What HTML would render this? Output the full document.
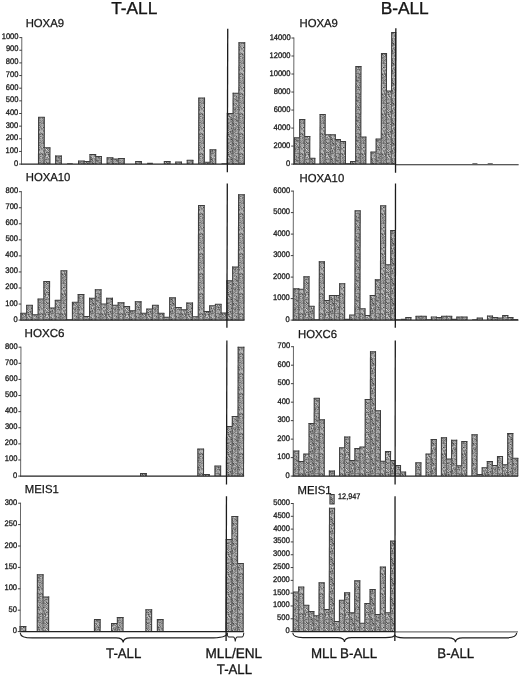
<!DOCTYPE html>
<html lang="en">
<head>
<meta charset="utf-8">
<title>HOX gene expression in T-ALL and B-ALL</title>
<style>
html,body{margin:0;padding:0;background:#fff;}
body{width:520px;height:676px;overflow:hidden;}
svg{display:block;}
text{font-family:"Liberation Sans", sans-serif;fill:#161616;}
.tk{font-weight:400;stroke:#161616;stroke-width:0.3;}
.tt{stroke:#161616;stroke-width:0.25;}
.tb{stroke:#161616;stroke-width:0.3;}
.th{stroke:#161616;stroke-width:0.35;}
</style>
</head>
<body>
<svg width="520" height="676" viewBox="0 0 520 676">
<defs>
<pattern id="st" width="20" height="20" patternUnits="userSpaceOnUse"><rect width="20" height="20" fill="#969696"/><rect x="0" y="0" width="1" height="1" fill="#838383"/><rect x="1" y="0" width="1" height="1" fill="#a7a7a7"/><rect x="2" y="0" width="1" height="1" fill="#838383"/><rect x="3" y="0" width="1" height="1" fill="#919191"/><rect x="4" y="0" width="1" height="1" fill="#707070"/><rect x="5" y="0" width="1" height="1" fill="#949494"/><rect x="6" y="0" width="1" height="1" fill="#a8a8a8"/><rect x="7" y="0" width="1" height="1" fill="#a5a5a5"/><rect x="8" y="0" width="1" height="1" fill="#a5a5a5"/><rect x="9" y="0" width="1" height="1" fill="#a0a0a0"/><rect x="10" y="0" width="1" height="1" fill="#949494"/><rect x="11" y="0" width="1" height="1" fill="#9f9f9f"/><rect x="12" y="0" width="1" height="1" fill="#5d5d5d"/><rect x="13" y="0" width="1" height="1" fill="#b1b1b1"/><rect x="14" y="0" width="1" height="1" fill="#979797"/><rect x="15" y="0" width="1" height="1" fill="#a7a7a7"/><rect x="16" y="0" width="1" height="1" fill="#5c5c5c"/><rect x="17" y="0" width="1" height="1" fill="#6a6a6a"/><rect x="18" y="0" width="1" height="1" fill="#717171"/><rect x="19" y="0" width="1" height="1" fill="#8d8d8d"/><rect x="0" y="1" width="1" height="1" fill="#a2a2a2"/><rect x="1" y="1" width="1" height="1" fill="#888888"/><rect x="2" y="1" width="1" height="1" fill="#a8a8a8"/><rect x="3" y="1" width="1" height="1" fill="#787878"/><rect x="4" y="1" width="1" height="1" fill="#a2a2a2"/><rect x="5" y="1" width="1" height="1" fill="#949494"/><rect x="6" y="1" width="1" height="1" fill="#888888"/><rect x="7" y="1" width="1" height="1" fill="#b8b8b8"/><rect x="8" y="1" width="1" height="1" fill="#a9a9a9"/><rect x="9" y="1" width="1" height="1" fill="#aaaaaa"/><rect x="10" y="1" width="1" height="1" fill="#898989"/><rect x="11" y="1" width="1" height="1" fill="#767676"/><rect x="12" y="1" width="1" height="1" fill="#909090"/><rect x="13" y="1" width="1" height="1" fill="#878787"/><rect x="14" y="1" width="1" height="1" fill="#ababab"/><rect x="15" y="1" width="1" height="1" fill="#909090"/><rect x="16" y="1" width="1" height="1" fill="#8d8d8d"/><rect x="17" y="1" width="1" height="1" fill="#707070"/><rect x="18" y="1" width="1" height="1" fill="#8b8b8b"/><rect x="19" y="1" width="1" height="1" fill="#aaaaaa"/><rect x="0" y="2" width="1" height="1" fill="#747474"/><rect x="1" y="2" width="1" height="1" fill="#a0a0a0"/><rect x="2" y="2" width="1" height="1" fill="#959595"/><rect x="3" y="2" width="1" height="1" fill="#717171"/><rect x="4" y="2" width="1" height="1" fill="#8b8b8b"/><rect x="5" y="2" width="1" height="1" fill="#bdbdbd"/><rect x="6" y="2" width="1" height="1" fill="#535353"/><rect x="7" y="2" width="1" height="1" fill="#919191"/><rect x="8" y="2" width="1" height="1" fill="#878787"/><rect x="9" y="2" width="1" height="1" fill="#838383"/><rect x="10" y="2" width="1" height="1" fill="#979797"/><rect x="11" y="2" width="1" height="1" fill="#989898"/><rect x="12" y="2" width="1" height="1" fill="#626262"/><rect x="13" y="2" width="1" height="1" fill="#b0b0b0"/><rect x="14" y="2" width="1" height="1" fill="#9c9c9c"/><rect x="15" y="2" width="1" height="1" fill="#b3b3b3"/><rect x="16" y="2" width="1" height="1" fill="#b0b0b0"/><rect x="17" y="2" width="1" height="1" fill="#a3a3a3"/><rect x="18" y="2" width="1" height="1" fill="#8d8d8d"/><rect x="19" y="2" width="1" height="1" fill="#767676"/><rect x="0" y="3" width="1" height="1" fill="#aaaaaa"/><rect x="1" y="3" width="1" height="1" fill="#797979"/><rect x="2" y="3" width="1" height="1" fill="#8d8d8d"/><rect x="3" y="3" width="1" height="1" fill="#676767"/><rect x="4" y="3" width="1" height="1" fill="#7f7f7f"/><rect x="5" y="3" width="1" height="1" fill="#7b7b7b"/><rect x="6" y="3" width="1" height="1" fill="#bcbcbc"/><rect x="7" y="3" width="1" height="1" fill="#535353"/><rect x="8" y="3" width="1" height="1" fill="#727272"/><rect x="9" y="3" width="1" height="1" fill="#909090"/><rect x="10" y="3" width="1" height="1" fill="#c0c0c0"/><rect x="11" y="3" width="1" height="1" fill="#999999"/><rect x="12" y="3" width="1" height="1" fill="#666666"/><rect x="13" y="3" width="1" height="1" fill="#464646"/><rect x="14" y="3" width="1" height="1" fill="#a3a3a3"/><rect x="15" y="3" width="1" height="1" fill="#767676"/><rect x="16" y="3" width="1" height="1" fill="#7b7b7b"/><rect x="17" y="3" width="1" height="1" fill="#a4a4a4"/><rect x="18" y="3" width="1" height="1" fill="#b7b7b7"/><rect x="19" y="3" width="1" height="1" fill="#8e8e8e"/><rect x="0" y="4" width="1" height="1" fill="#909090"/><rect x="1" y="4" width="1" height="1" fill="#a5a5a5"/><rect x="2" y="4" width="1" height="1" fill="#b5b5b5"/><rect x="3" y="4" width="1" height="1" fill="#aaaaaa"/><rect x="4" y="4" width="1" height="1" fill="#989898"/><rect x="5" y="4" width="1" height="1" fill="#a8a8a8"/><rect x="6" y="4" width="1" height="1" fill="#5f5f5f"/><rect x="7" y="4" width="1" height="1" fill="#bcbcbc"/><rect x="8" y="4" width="1" height="1" fill="#a3a3a3"/><rect x="9" y="4" width="1" height="1" fill="#a8a8a8"/><rect x="10" y="4" width="1" height="1" fill="#545454"/><rect x="11" y="4" width="1" height="1" fill="#888888"/><rect x="12" y="4" width="1" height="1" fill="#a0a0a0"/><rect x="13" y="4" width="1" height="1" fill="#696969"/><rect x="14" y="4" width="1" height="1" fill="#858585"/><rect x="15" y="4" width="1" height="1" fill="#b5b5b5"/><rect x="16" y="4" width="1" height="1" fill="#666666"/><rect x="17" y="4" width="1" height="1" fill="#c5c5c5"/><rect x="18" y="4" width="1" height="1" fill="#989898"/><rect x="19" y="4" width="1" height="1" fill="#959595"/><rect x="0" y="5" width="1" height="1" fill="#a2a2a2"/><rect x="1" y="5" width="1" height="1" fill="#9b9b9b"/><rect x="2" y="5" width="1" height="1" fill="#9d9d9d"/><rect x="3" y="5" width="1" height="1" fill="#a8a8a8"/><rect x="4" y="5" width="1" height="1" fill="#888888"/><rect x="5" y="5" width="1" height="1" fill="#7e7e7e"/><rect x="6" y="5" width="1" height="1" fill="#b6b6b6"/><rect x="7" y="5" width="1" height="1" fill="#8a8a8a"/><rect x="8" y="5" width="1" height="1" fill="#828282"/><rect x="9" y="5" width="1" height="1" fill="#a3a3a3"/><rect x="10" y="5" width="1" height="1" fill="#c1c1c1"/><rect x="11" y="5" width="1" height="1" fill="#7d7d7d"/><rect x="12" y="5" width="1" height="1" fill="#747474"/><rect x="13" y="5" width="1" height="1" fill="#868686"/><rect x="14" y="5" width="1" height="1" fill="#959595"/><rect x="15" y="5" width="1" height="1" fill="#818181"/><rect x="16" y="5" width="1" height="1" fill="#bfbfbf"/><rect x="17" y="5" width="1" height="1" fill="#6e6e6e"/><rect x="18" y="5" width="1" height="1" fill="#bcbcbc"/><rect x="19" y="5" width="1" height="1" fill="#676767"/><rect x="0" y="6" width="1" height="1" fill="#747474"/><rect x="1" y="6" width="1" height="1" fill="#ababab"/><rect x="2" y="6" width="1" height="1" fill="#a8a8a8"/><rect x="3" y="6" width="1" height="1" fill="#b1b1b1"/><rect x="4" y="6" width="1" height="1" fill="#939393"/><rect x="5" y="6" width="1" height="1" fill="#9d9d9d"/><rect x="6" y="6" width="1" height="1" fill="#8e8e8e"/><rect x="7" y="6" width="1" height="1" fill="#a9a9a9"/><rect x="8" y="6" width="1" height="1" fill="#858585"/><rect x="9" y="6" width="1" height="1" fill="#a1a1a1"/><rect x="10" y="6" width="1" height="1" fill="#999999"/><rect x="11" y="6" width="1" height="1" fill="#9a9a9a"/><rect x="12" y="6" width="1" height="1" fill="#9e9e9e"/><rect x="13" y="6" width="1" height="1" fill="#a9a9a9"/><rect x="14" y="6" width="1" height="1" fill="#c0c0c0"/><rect x="15" y="6" width="1" height="1" fill="#a2a2a2"/><rect x="16" y="6" width="1" height="1" fill="#7e7e7e"/><rect x="17" y="6" width="1" height="1" fill="#8f8f8f"/><rect x="18" y="6" width="1" height="1" fill="#898989"/><rect x="19" y="6" width="1" height="1" fill="#b2b2b2"/><rect x="0" y="7" width="1" height="1" fill="#909090"/><rect x="1" y="7" width="1" height="1" fill="#949494"/><rect x="2" y="7" width="1" height="1" fill="#cbcbcb"/><rect x="3" y="7" width="1" height="1" fill="#444444"/><rect x="4" y="7" width="1" height="1" fill="#7b7b7b"/><rect x="5" y="7" width="1" height="1" fill="#909090"/><rect x="6" y="7" width="1" height="1" fill="#a4a4a4"/><rect x="7" y="7" width="1" height="1" fill="#909090"/><rect x="8" y="7" width="1" height="1" fill="#8e8e8e"/><rect x="9" y="7" width="1" height="1" fill="#9b9b9b"/><rect x="10" y="7" width="1" height="1" fill="#a1a1a1"/><rect x="11" y="7" width="1" height="1" fill="#7b7b7b"/><rect x="12" y="7" width="1" height="1" fill="#dbdbdb"/><rect x="13" y="7" width="1" height="1" fill="#939393"/><rect x="14" y="7" width="1" height="1" fill="#8b8b8b"/><rect x="15" y="7" width="1" height="1" fill="#878787"/><rect x="16" y="7" width="1" height="1" fill="#939393"/><rect x="17" y="7" width="1" height="1" fill="#888888"/><rect x="18" y="7" width="1" height="1" fill="#505050"/><rect x="19" y="7" width="1" height="1" fill="#7c7c7c"/><rect x="0" y="8" width="1" height="1" fill="#a5a5a5"/><rect x="1" y="8" width="1" height="1" fill="#7a7a7a"/><rect x="2" y="8" width="1" height="1" fill="#888888"/><rect x="3" y="8" width="1" height="1" fill="#b3b3b3"/><rect x="4" y="8" width="1" height="1" fill="#a1a1a1"/><rect x="5" y="8" width="1" height="1" fill="#c2c2c2"/><rect x="6" y="8" width="1" height="1" fill="#5c5c5c"/><rect x="7" y="8" width="1" height="1" fill="#909090"/><rect x="8" y="8" width="1" height="1" fill="#808080"/><rect x="9" y="8" width="1" height="1" fill="#aaaaaa"/><rect x="10" y="8" width="1" height="1" fill="#a7a7a7"/><rect x="11" y="8" width="1" height="1" fill="#515151"/><rect x="12" y="8" width="1" height="1" fill="#a7a7a7"/><rect x="13" y="8" width="1" height="1" fill="#727272"/><rect x="14" y="8" width="1" height="1" fill="#9c9c9c"/><rect x="15" y="8" width="1" height="1" fill="#717171"/><rect x="16" y="8" width="1" height="1" fill="#8e8e8e"/><rect x="17" y="8" width="1" height="1" fill="#bababa"/><rect x="18" y="8" width="1" height="1" fill="#858585"/><rect x="19" y="8" width="1" height="1" fill="#9f9f9f"/><rect x="0" y="9" width="1" height="1" fill="#afafaf"/><rect x="1" y="9" width="1" height="1" fill="#8d8d8d"/><rect x="2" y="9" width="1" height="1" fill="#979797"/><rect x="3" y="9" width="1" height="1" fill="#b3b3b3"/><rect x="4" y="9" width="1" height="1" fill="#b6b6b6"/><rect x="5" y="9" width="1" height="1" fill="#828282"/><rect x="6" y="9" width="1" height="1" fill="#e4e4e4"/><rect x="7" y="9" width="1" height="1" fill="#6b6b6b"/><rect x="8" y="9" width="1" height="1" fill="#b2b2b2"/><rect x="9" y="9" width="1" height="1" fill="#828282"/><rect x="10" y="9" width="1" height="1" fill="#9d9d9d"/><rect x="11" y="9" width="1" height="1" fill="#9d9d9d"/><rect x="12" y="9" width="1" height="1" fill="#9f9f9f"/><rect x="13" y="9" width="1" height="1" fill="#9b9b9b"/><rect x="14" y="9" width="1" height="1" fill="#707070"/><rect x="15" y="9" width="1" height="1" fill="#616161"/><rect x="16" y="9" width="1" height="1" fill="#aaaaaa"/><rect x="17" y="9" width="1" height="1" fill="#6f6f6f"/><rect x="18" y="9" width="1" height="1" fill="#7e7e7e"/><rect x="19" y="9" width="1" height="1" fill="#626262"/><rect x="0" y="10" width="1" height="1" fill="#acacac"/><rect x="1" y="10" width="1" height="1" fill="#aeaeae"/><rect x="2" y="10" width="1" height="1" fill="#b1b1b1"/><rect x="3" y="10" width="1" height="1" fill="#808080"/><rect x="4" y="10" width="1" height="1" fill="#8a8a8a"/><rect x="5" y="10" width="1" height="1" fill="#7b7b7b"/><rect x="6" y="10" width="1" height="1" fill="#9e9e9e"/><rect x="7" y="10" width="1" height="1" fill="#c4c4c4"/><rect x="8" y="10" width="1" height="1" fill="#717171"/><rect x="9" y="10" width="1" height="1" fill="#c4c4c4"/><rect x="10" y="10" width="1" height="1" fill="#a4a4a4"/><rect x="11" y="10" width="1" height="1" fill="#959595"/><rect x="12" y="10" width="1" height="1" fill="#545454"/><rect x="13" y="10" width="1" height="1" fill="#bfbfbf"/><rect x="14" y="10" width="1" height="1" fill="#878787"/><rect x="15" y="10" width="1" height="1" fill="#898989"/><rect x="16" y="10" width="1" height="1" fill="#949494"/><rect x="17" y="10" width="1" height="1" fill="#a5a5a5"/><rect x="18" y="10" width="1" height="1" fill="#b2b2b2"/><rect x="19" y="10" width="1" height="1" fill="#7e7e7e"/><rect x="0" y="11" width="1" height="1" fill="#b8b8b8"/><rect x="1" y="11" width="1" height="1" fill="#b2b2b2"/><rect x="2" y="11" width="1" height="1" fill="#c1c1c1"/><rect x="3" y="11" width="1" height="1" fill="#858585"/><rect x="4" y="11" width="1" height="1" fill="#858585"/><rect x="5" y="11" width="1" height="1" fill="#a5a5a5"/><rect x="6" y="11" width="1" height="1" fill="#9d9d9d"/><rect x="7" y="11" width="1" height="1" fill="#8d8d8d"/><rect x="8" y="11" width="1" height="1" fill="#c0c0c0"/><rect x="9" y="11" width="1" height="1" fill="#828282"/><rect x="10" y="11" width="1" height="1" fill="#5b5b5b"/><rect x="11" y="11" width="1" height="1" fill="#7f7f7f"/><rect x="12" y="11" width="1" height="1" fill="#676767"/><rect x="13" y="11" width="1" height="1" fill="#a0a0a0"/><rect x="14" y="11" width="1" height="1" fill="#a2a2a2"/><rect x="15" y="11" width="1" height="1" fill="#797979"/><rect x="16" y="11" width="1" height="1" fill="#999999"/><rect x="17" y="11" width="1" height="1" fill="#a0a0a0"/><rect x="18" y="11" width="1" height="1" fill="#9c9c9c"/><rect x="19" y="11" width="1" height="1" fill="#adadad"/><rect x="0" y="12" width="1" height="1" fill="#888888"/><rect x="1" y="12" width="1" height="1" fill="#b6b6b6"/><rect x="2" y="12" width="1" height="1" fill="#b2b2b2"/><rect x="3" y="12" width="1" height="1" fill="#c5c5c5"/><rect x="4" y="12" width="1" height="1" fill="#777777"/><rect x="5" y="12" width="1" height="1" fill="#b1b1b1"/><rect x="6" y="12" width="1" height="1" fill="#575757"/><rect x="7" y="12" width="1" height="1" fill="#7c7c7c"/><rect x="8" y="12" width="1" height="1" fill="#555555"/><rect x="9" y="12" width="1" height="1" fill="#b6b6b6"/><rect x="10" y="12" width="1" height="1" fill="#686868"/><rect x="11" y="12" width="1" height="1" fill="#999999"/><rect x="12" y="12" width="1" height="1" fill="#848484"/><rect x="13" y="12" width="1" height="1" fill="#999999"/><rect x="14" y="12" width="1" height="1" fill="#7a7a7a"/><rect x="15" y="12" width="1" height="1" fill="#a0a0a0"/><rect x="16" y="12" width="1" height="1" fill="#bababa"/><rect x="17" y="12" width="1" height="1" fill="#9b9b9b"/><rect x="18" y="12" width="1" height="1" fill="#989898"/><rect x="19" y="12" width="1" height="1" fill="#b5b5b5"/><rect x="0" y="13" width="1" height="1" fill="#949494"/><rect x="1" y="13" width="1" height="1" fill="#676767"/><rect x="2" y="13" width="1" height="1" fill="#8b8b8b"/><rect x="3" y="13" width="1" height="1" fill="#a6a6a6"/><rect x="4" y="13" width="1" height="1" fill="#6d6d6d"/><rect x="5" y="13" width="1" height="1" fill="#797979"/><rect x="6" y="13" width="1" height="1" fill="#b5b5b5"/><rect x="7" y="13" width="1" height="1" fill="#9f9f9f"/><rect x="8" y="13" width="1" height="1" fill="#9a9a9a"/><rect x="9" y="13" width="1" height="1" fill="#9f9f9f"/><rect x="10" y="13" width="1" height="1" fill="#9e9e9e"/><rect x="11" y="13" width="1" height="1" fill="#6a6a6a"/><rect x="12" y="13" width="1" height="1" fill="#6f6f6f"/><rect x="13" y="13" width="1" height="1" fill="#787878"/><rect x="14" y="13" width="1" height="1" fill="#b2b2b2"/><rect x="15" y="13" width="1" height="1" fill="#7a7a7a"/><rect x="16" y="13" width="1" height="1" fill="#818181"/><rect x="17" y="13" width="1" height="1" fill="#757575"/><rect x="18" y="13" width="1" height="1" fill="#707070"/><rect x="19" y="13" width="1" height="1" fill="#868686"/><rect x="0" y="14" width="1" height="1" fill="#6a6a6a"/><rect x="1" y="14" width="1" height="1" fill="#a3a3a3"/><rect x="2" y="14" width="1" height="1" fill="#4a4a4a"/><rect x="3" y="14" width="1" height="1" fill="#a2a2a2"/><rect x="4" y="14" width="1" height="1" fill="#787878"/><rect x="5" y="14" width="1" height="1" fill="#656565"/><rect x="6" y="14" width="1" height="1" fill="#9d9d9d"/><rect x="7" y="14" width="1" height="1" fill="#929292"/><rect x="8" y="14" width="1" height="1" fill="#4d4d4d"/><rect x="9" y="14" width="1" height="1" fill="#828282"/><rect x="10" y="14" width="1" height="1" fill="#919191"/><rect x="11" y="14" width="1" height="1" fill="#8d8d8d"/><rect x="12" y="14" width="1" height="1" fill="#9f9f9f"/><rect x="13" y="14" width="1" height="1" fill="#aeaeae"/><rect x="14" y="14" width="1" height="1" fill="#9b9b9b"/><rect x="15" y="14" width="1" height="1" fill="#a2a2a2"/><rect x="16" y="14" width="1" height="1" fill="#aeaeae"/><rect x="17" y="14" width="1" height="1" fill="#ababab"/><rect x="18" y="14" width="1" height="1" fill="#969696"/><rect x="19" y="14" width="1" height="1" fill="#616161"/><rect x="0" y="15" width="1" height="1" fill="#b2b2b2"/><rect x="1" y="15" width="1" height="1" fill="#adadad"/><rect x="2" y="15" width="1" height="1" fill="#919191"/><rect x="3" y="15" width="1" height="1" fill="#7d7d7d"/><rect x="4" y="15" width="1" height="1" fill="#cecece"/><rect x="5" y="15" width="1" height="1" fill="#5a5a5a"/><rect x="6" y="15" width="1" height="1" fill="#a6a6a6"/><rect x="7" y="15" width="1" height="1" fill="#cbcbcb"/><rect x="8" y="15" width="1" height="1" fill="#808080"/><rect x="9" y="15" width="1" height="1" fill="#9c9c9c"/><rect x="10" y="15" width="1" height="1" fill="#cccccc"/><rect x="11" y="15" width="1" height="1" fill="#868686"/><rect x="12" y="15" width="1" height="1" fill="#a9a9a9"/><rect x="13" y="15" width="1" height="1" fill="#a2a2a2"/><rect x="14" y="15" width="1" height="1" fill="#818181"/><rect x="15" y="15" width="1" height="1" fill="#878787"/><rect x="16" y="15" width="1" height="1" fill="#a1a1a1"/><rect x="17" y="15" width="1" height="1" fill="#a0a0a0"/><rect x="18" y="15" width="1" height="1" fill="#999999"/><rect x="19" y="15" width="1" height="1" fill="#848484"/><rect x="0" y="16" width="1" height="1" fill="#6e6e6e"/><rect x="1" y="16" width="1" height="1" fill="#909090"/><rect x="2" y="16" width="1" height="1" fill="#a2a2a2"/><rect x="3" y="16" width="1" height="1" fill="#9c9c9c"/><rect x="4" y="16" width="1" height="1" fill="#727272"/><rect x="5" y="16" width="1" height="1" fill="#838383"/><rect x="6" y="16" width="1" height="1" fill="#d2d2d2"/><rect x="7" y="16" width="1" height="1" fill="#b8b8b8"/><rect x="8" y="16" width="1" height="1" fill="#9b9b9b"/><rect x="9" y="16" width="1" height="1" fill="#535353"/><rect x="10" y="16" width="1" height="1" fill="#9a9a9a"/><rect x="11" y="16" width="1" height="1" fill="#a6a6a6"/><rect x="12" y="16" width="1" height="1" fill="#b7b7b7"/><rect x="13" y="16" width="1" height="1" fill="#a5a5a5"/><rect x="14" y="16" width="1" height="1" fill="#888888"/><rect x="15" y="16" width="1" height="1" fill="#a8a8a8"/><rect x="16" y="16" width="1" height="1" fill="#555555"/><rect x="17" y="16" width="1" height="1" fill="#b5b5b5"/><rect x="18" y="16" width="1" height="1" fill="#929292"/><rect x="19" y="16" width="1" height="1" fill="#878787"/><rect x="0" y="17" width="1" height="1" fill="#bdbdbd"/><rect x="1" y="17" width="1" height="1" fill="#bababa"/><rect x="2" y="17" width="1" height="1" fill="#747474"/><rect x="3" y="17" width="1" height="1" fill="#787878"/><rect x="4" y="17" width="1" height="1" fill="#a1a1a1"/><rect x="5" y="17" width="1" height="1" fill="#8e8e8e"/><rect x="6" y="17" width="1" height="1" fill="#8f8f8f"/><rect x="7" y="17" width="1" height="1" fill="#6f6f6f"/><rect x="8" y="17" width="1" height="1" fill="#d3d3d3"/><rect x="9" y="17" width="1" height="1" fill="#a6a6a6"/><rect x="10" y="17" width="1" height="1" fill="#797979"/><rect x="11" y="17" width="1" height="1" fill="#656565"/><rect x="12" y="17" width="1" height="1" fill="#c7c7c7"/><rect x="13" y="17" width="1" height="1" fill="#a4a4a4"/><rect x="14" y="17" width="1" height="1" fill="#cbcbcb"/><rect x="15" y="17" width="1" height="1" fill="#9f9f9f"/><rect x="16" y="17" width="1" height="1" fill="#828282"/><rect x="17" y="17" width="1" height="1" fill="#919191"/><rect x="18" y="17" width="1" height="1" fill="#5f5f5f"/><rect x="19" y="17" width="1" height="1" fill="#757575"/><rect x="0" y="18" width="1" height="1" fill="#888888"/><rect x="1" y="18" width="1" height="1" fill="#a8a8a8"/><rect x="2" y="18" width="1" height="1" fill="#767676"/><rect x="3" y="18" width="1" height="1" fill="#969696"/><rect x="4" y="18" width="1" height="1" fill="#969696"/><rect x="5" y="18" width="1" height="1" fill="#a4a4a4"/><rect x="6" y="18" width="1" height="1" fill="#9b9b9b"/><rect x="7" y="18" width="1" height="1" fill="#9f9f9f"/><rect x="8" y="18" width="1" height="1" fill="#818181"/><rect x="9" y="18" width="1" height="1" fill="#afafaf"/><rect x="10" y="18" width="1" height="1" fill="#8b8b8b"/><rect x="11" y="18" width="1" height="1" fill="#838383"/><rect x="12" y="18" width="1" height="1" fill="#797979"/><rect x="13" y="18" width="1" height="1" fill="#999999"/><rect x="14" y="18" width="1" height="1" fill="#878787"/><rect x="15" y="18" width="1" height="1" fill="#9e9e9e"/><rect x="16" y="18" width="1" height="1" fill="#898989"/><rect x="17" y="18" width="1" height="1" fill="#9e9e9e"/><rect x="18" y="18" width="1" height="1" fill="#868686"/><rect x="19" y="18" width="1" height="1" fill="#787878"/><rect x="0" y="19" width="1" height="1" fill="#a5a5a5"/><rect x="1" y="19" width="1" height="1" fill="#a6a6a6"/><rect x="2" y="19" width="1" height="1" fill="#a5a5a5"/><rect x="3" y="19" width="1" height="1" fill="#848484"/><rect x="4" y="19" width="1" height="1" fill="#a6a6a6"/><rect x="5" y="19" width="1" height="1" fill="#6f6f6f"/><rect x="6" y="19" width="1" height="1" fill="#666666"/><rect x="7" y="19" width="1" height="1" fill="#8b8b8b"/><rect x="8" y="19" width="1" height="1" fill="#808080"/><rect x="9" y="19" width="1" height="1" fill="#9d9d9d"/><rect x="10" y="19" width="1" height="1" fill="#7c7c7c"/><rect x="11" y="19" width="1" height="1" fill="#434343"/><rect x="12" y="19" width="1" height="1" fill="#7d7d7d"/><rect x="13" y="19" width="1" height="1" fill="#b4b4b4"/><rect x="14" y="19" width="1" height="1" fill="#8f8f8f"/><rect x="15" y="19" width="1" height="1" fill="#656565"/><rect x="16" y="19" width="1" height="1" fill="#858585"/><rect x="17" y="19" width="1" height="1" fill="#989898"/><rect x="18" y="19" width="1" height="1" fill="#a7a7a7"/><rect x="19" y="19" width="1" height="1" fill="#8e8e8e"/></pattern>
</defs>
<rect width="520" height="676" fill="#ffffff"/>
<g>
<rect x="38.33" y="117.29" width="6.12" height="46.8" fill="url(#st)"/>
<rect x="44.01" y="147.78" width="6.12" height="16.32" fill="url(#st)"/>
<rect x="55.44" y="155.88" width="6.12" height="8.22" fill="url(#st)"/>
<rect x="78.31" y="161.06" width="6.12" height="3.04" fill="url(#st)"/>
<rect x="84.03" y="161.57" width="6.12" height="2.53" fill="url(#st)"/>
<rect x="89.76" y="154.61" width="6.12" height="9.49" fill="url(#st)"/>
<rect x="95.48" y="156.38" width="6.12" height="7.72" fill="url(#st)"/>
<rect x="106.92" y="157.78" width="6.12" height="6.33" fill="url(#st)"/>
<rect x="112.63" y="159.04" width="6.12" height="5.06" fill="url(#st)"/>
<rect x="118.35" y="158.41" width="6.12" height="5.69" fill="url(#st)"/>
<rect x="135.51" y="161.57" width="6.12" height="2.53" fill="url(#st)"/>
<rect x="164.11" y="161.57" width="6.12" height="2.53" fill="url(#st)"/>
<rect x="175.55" y="162.08" width="6.12" height="2.02" fill="url(#st)"/>
<rect x="186.99" y="160.31" width="6.12" height="3.79" fill="url(#st)"/>
<rect x="198.52" y="98.07" width="6.12" height="66.03" fill="url(#st)"/>
<rect x="204.15" y="162.33" width="6.12" height="1.77" fill="url(#st)"/>
<rect x="209.89" y="149.81" width="6.12" height="14.29" fill="url(#st)"/>
<rect x="227.1" y="113.5" width="6.12" height="50.6" fill="url(#st)"/>
<rect x="232.84" y="93.26" width="6.12" height="70.84" fill="url(#st)"/>
<rect x="238.63" y="42.66" width="6.12" height="121.44" fill="url(#st)"/>
<rect x="20.69" y="313.36" width="6.12" height="6.74" fill="url(#st)"/>
<rect x="26.43" y="305.33" width="6.12" height="14.77" fill="url(#st)"/>
<rect x="32.13" y="314.64" width="6.12" height="5.46" fill="url(#st)"/>
<rect x="37.87" y="299.07" width="6.12" height="21.03" fill="url(#st)"/>
<rect x="43.62" y="281.58" width="6.12" height="38.52" fill="url(#st)"/>
<rect x="49.3" y="307.9" width="6.12" height="12.2" fill="url(#st)"/>
<rect x="55.03" y="300.36" width="6.12" height="19.74" fill="url(#st)"/>
<rect x="60.79" y="270.83" width="6.12" height="49.27" fill="url(#st)"/>
<rect x="72.19" y="302.28" width="6.12" height="17.82" fill="url(#st)"/>
<rect x="77.92" y="294.58" width="6.12" height="25.52" fill="url(#st)"/>
<rect x="83.61" y="316.57" width="6.12" height="3.53" fill="url(#st)"/>
<rect x="89.36" y="298.27" width="6.12" height="21.83" fill="url(#st)"/>
<rect x="95.09" y="289.77" width="6.12" height="30.33" fill="url(#st)"/>
<rect x="100.79" y="304.05" width="6.12" height="16.05" fill="url(#st)"/>
<rect x="106.52" y="298.27" width="6.12" height="21.83" fill="url(#st)"/>
<rect x="112.23" y="305.33" width="6.12" height="14.77" fill="url(#st)"/>
<rect x="117.95" y="302.77" width="6.12" height="17.33" fill="url(#st)"/>
<rect x="123.66" y="306.62" width="6.12" height="13.48" fill="url(#st)"/>
<rect x="129.38" y="310.79" width="6.12" height="9.31" fill="url(#st)"/>
<rect x="135.11" y="301.64" width="6.12" height="18.46" fill="url(#st)"/>
<rect x="140.81" y="313.36" width="6.12" height="6.74" fill="url(#st)"/>
<rect x="146.54" y="309.03" width="6.12" height="11.07" fill="url(#st)"/>
<rect x="152.27" y="305.33" width="6.12" height="14.77" fill="url(#st)"/>
<rect x="157.97" y="313.36" width="6.12" height="6.74" fill="url(#st)"/>
<rect x="163.69" y="317.21" width="6.12" height="2.89" fill="url(#st)"/>
<rect x="169.44" y="297.79" width="6.12" height="22.31" fill="url(#st)"/>
<rect x="175.14" y="307.42" width="6.12" height="12.68" fill="url(#st)"/>
<rect x="180.86" y="309.83" width="6.12" height="10.27" fill="url(#st)"/>
<rect x="186.59" y="302.93" width="6.12" height="17.17" fill="url(#st)"/>
<rect x="192.29" y="316.73" width="6.12" height="3.37" fill="url(#st)"/>
<rect x="198.16" y="205.5" width="6.12" height="114.6" fill="url(#st)"/>
<rect x="203.74" y="311.59" width="6.12" height="8.51" fill="url(#st)"/>
<rect x="209.47" y="305.82" width="6.12" height="14.28" fill="url(#st)"/>
<rect x="215.19" y="304.37" width="6.12" height="15.73" fill="url(#st)"/>
<rect x="220.9" y="312.88" width="6.12" height="7.22" fill="url(#st)"/>
<rect x="226.66" y="280.78" width="6.12" height="39.32" fill="url(#st)"/>
<rect x="232.4" y="266.97" width="6.12" height="53.13" fill="url(#st)"/>
<rect x="238.21" y="194.75" width="6.12" height="125.35" fill="url(#st)"/>
<rect x="140.39" y="473.52" width="6.12" height="2.58" fill="url(#st)"/>
<rect x="197.62" y="449.03" width="6.12" height="27.07" fill="url(#st)"/>
<rect x="203.31" y="474.49" width="6.12" height="1.61" fill="url(#st)"/>
<rect x="214.76" y="466.11" width="6.12" height="9.99" fill="url(#st)"/>
<rect x="226.25" y="426.47" width="6.12" height="49.63" fill="url(#st)"/>
<rect x="231.99" y="416.48" width="6.12" height="59.62" fill="url(#st)"/>
<rect x="237.8" y="347.2" width="6.12" height="128.9" fill="url(#st)"/>
<rect x="19.85" y="626.46" width="6.12" height="5.14" fill="url(#st)"/>
<rect x="37.08" y="574.68" width="6.12" height="56.92" fill="url(#st)"/>
<rect x="42.77" y="596.93" width="6.12" height="34.67" fill="url(#st)"/>
<rect x="94.22" y="619.62" width="6.12" height="11.98" fill="url(#st)"/>
<rect x="111.38" y="623.47" width="6.12" height="8.13" fill="url(#st)"/>
<rect x="117.1" y="617.48" width="6.12" height="14.12" fill="url(#st)"/>
<rect x="145.71" y="609.77" width="6.12" height="21.83" fill="url(#st)"/>
<rect x="157.14" y="619.62" width="6.12" height="11.98" fill="url(#st)"/>
<rect x="225.89" y="539.58" width="6.12" height="92.02" fill="url(#st)"/>
<rect x="231.64" y="516.47" width="6.12" height="115.13" fill="url(#st)"/>
<rect x="237.3" y="563.55" width="6.12" height="68.05" fill="url(#st)"/>
<rect x="294.29" y="137.83" width="5.5" height="26.27" fill="url(#st)"/>
<rect x="299.42" y="119.57" width="5.5" height="44.53" fill="url(#st)"/>
<rect x="304.49" y="136.58" width="5.5" height="27.52" fill="url(#st)"/>
<rect x="309.56" y="158.34" width="5.5" height="5.76" fill="url(#st)"/>
<rect x="319.82" y="114.56" width="5.5" height="49.54" fill="url(#st)"/>
<rect x="324.9" y="134.83" width="5.5" height="29.27" fill="url(#st)"/>
<rect x="330" y="134.83" width="5.5" height="29.27" fill="url(#st)"/>
<rect x="335.09" y="139.58" width="5.5" height="24.52" fill="url(#st)"/>
<rect x="340.19" y="141.58" width="5.5" height="22.52" fill="url(#st)"/>
<rect x="350.36" y="161.58" width="5.5" height="2.52" fill="url(#st)"/>
<rect x="355.59" y="66.53" width="5.5" height="97.57" fill="url(#st)"/>
<rect x="360.59" y="137.08" width="5.5" height="27.02" fill="url(#st)"/>
<rect x="370.77" y="152.09" width="5.5" height="12.01" fill="url(#st)"/>
<rect x="375.89" y="139.08" width="5.5" height="25.02" fill="url(#st)"/>
<rect x="381.11" y="53.51" width="5.5" height="110.59" fill="url(#st)"/>
<rect x="386.16" y="91.04" width="5.5" height="73.06" fill="url(#st)"/>
<rect x="391.33" y="32.6" width="4.4" height="131.5" fill="url(#st)"/>
<rect x="293.48" y="288.77" width="5.5" height="31.33" fill="url(#st)"/>
<rect x="298.58" y="289.27" width="5.5" height="30.83" fill="url(#st)"/>
<rect x="303.69" y="276.76" width="5.5" height="43.34" fill="url(#st)"/>
<rect x="308.75" y="306.32" width="5.5" height="13.78" fill="url(#st)"/>
<rect x="319.01" y="261.71" width="5.5" height="58.39" fill="url(#st)"/>
<rect x="324.06" y="300.56" width="5.5" height="19.54" fill="url(#st)"/>
<rect x="329.17" y="295.55" width="5.5" height="24.55" fill="url(#st)"/>
<rect x="334.27" y="295.55" width="5.5" height="24.55" fill="url(#st)"/>
<rect x="339.38" y="283.76" width="5.5" height="36.34" fill="url(#st)"/>
<rect x="349.54" y="315.09" width="5.5" height="5.01" fill="url(#st)"/>
<rect x="354.78" y="210.84" width="5.5" height="109.26" fill="url(#st)"/>
<rect x="359.75" y="308.83" width="5.5" height="11.27" fill="url(#st)"/>
<rect x="364.84" y="315.59" width="5.5" height="4.52" fill="url(#st)"/>
<rect x="369.97" y="295.55" width="5.5" height="24.55" fill="url(#st)"/>
<rect x="375.09" y="279.77" width="5.5" height="40.33" fill="url(#st)"/>
<rect x="380.29" y="205.83" width="5.5" height="114.27" fill="url(#st)"/>
<rect x="385.31" y="264.72" width="5.5" height="55.38" fill="url(#st)"/>
<rect x="390.46" y="230.44" width="5" height="89.66" fill="url(#st)"/>
<rect x="405.64" y="317.61" width="5.5" height="2.49" fill="url(#st)"/>
<rect x="415.84" y="316.34" width="5.5" height="3.76" fill="url(#st)"/>
<rect x="420.94" y="316.34" width="5.5" height="3.76" fill="url(#st)"/>
<rect x="431.14" y="317.09" width="5.5" height="3.01" fill="url(#st)"/>
<rect x="436.24" y="317.61" width="5.5" height="2.49" fill="url(#st)"/>
<rect x="441.34" y="316.34" width="5.5" height="3.76" fill="url(#st)"/>
<rect x="446.44" y="316.34" width="5.5" height="3.76" fill="url(#st)"/>
<rect x="456.64" y="317.09" width="5.5" height="3.01" fill="url(#st)"/>
<rect x="461.74" y="317.09" width="5.5" height="3.01" fill="url(#st)"/>
<rect x="477.04" y="318.1" width="5.5" height="2" fill="url(#st)"/>
<rect x="487.24" y="316.1" width="5.5" height="4" fill="url(#st)"/>
<rect x="492.34" y="317.61" width="5.5" height="2.49" fill="url(#st)"/>
<rect x="497.44" y="318.1" width="5.5" height="2" fill="url(#st)"/>
<rect x="502.54" y="315.59" width="5.5" height="4.52" fill="url(#st)"/>
<rect x="507.64" y="317.61" width="5.5" height="2.49" fill="url(#st)"/>
<rect x="293.45" y="450.96" width="5.5" height="25.14" fill="url(#st)"/>
<rect x="298.53" y="461.5" width="5.5" height="14.6" fill="url(#st)"/>
<rect x="303.64" y="454.1" width="5.5" height="22" fill="url(#st)"/>
<rect x="308.79" y="423.42" width="5.5" height="52.68" fill="url(#st)"/>
<rect x="313.92" y="398.28" width="5.5" height="77.82" fill="url(#st)"/>
<rect x="318.99" y="419.72" width="5.5" height="56.38" fill="url(#st)"/>
<rect x="329.12" y="470.92" width="5.5" height="5.18" fill="url(#st)"/>
<rect x="339.35" y="447.82" width="5.5" height="28.28" fill="url(#st)"/>
<rect x="344.47" y="436.91" width="5.5" height="39.19" fill="url(#st)"/>
<rect x="349.54" y="460.39" width="5.5" height="15.71" fill="url(#st)"/>
<rect x="354.65" y="448.56" width="5.5" height="27.54" fill="url(#st)"/>
<rect x="359.75" y="447.08" width="5.5" height="29.02" fill="url(#st)"/>
<rect x="364.92" y="399.57" width="5.5" height="76.53" fill="url(#st)"/>
<rect x="370.08" y="351.69" width="5.5" height="124.41" fill="url(#st)"/>
<rect x="375.1" y="410.66" width="5.5" height="65.44" fill="url(#st)"/>
<rect x="380.13" y="461.13" width="5.5" height="14.97" fill="url(#st)"/>
<rect x="385.25" y="451.51" width="5.5" height="24.59" fill="url(#st)"/>
<rect x="390.34" y="460.39" width="4.8" height="15.71" fill="url(#st)"/>
<rect x="395.23" y="465.38" width="5.5" height="10.72" fill="url(#st)"/>
<rect x="400.32" y="472.03" width="5.5" height="4.07" fill="url(#st)"/>
<rect x="415.63" y="462.79" width="5.5" height="13.31" fill="url(#st)"/>
<rect x="425.84" y="454.1" width="5.5" height="22" fill="url(#st)"/>
<rect x="430.96" y="439.5" width="5.5" height="36.6" fill="url(#st)"/>
<rect x="441.17" y="437.65" width="5.5" height="38.45" fill="url(#st)"/>
<rect x="446.24" y="459.09" width="5.5" height="17.01" fill="url(#st)"/>
<rect x="451.36" y="440.24" width="5.5" height="35.86" fill="url(#st)"/>
<rect x="456.43" y="465.75" width="5.5" height="10.35" fill="url(#st)"/>
<rect x="461.56" y="441.53" width="5.5" height="34.57" fill="url(#st)"/>
<rect x="471.77" y="434.69" width="5.5" height="41.41" fill="url(#st)"/>
<rect x="476.82" y="474.62" width="5.5" height="1.48" fill="url(#st)"/>
<rect x="481.93" y="467.78" width="5.5" height="8.32" fill="url(#st)"/>
<rect x="487.03" y="461.5" width="5.5" height="14.6" fill="url(#st)"/>
<rect x="492.13" y="465.38" width="5.5" height="10.72" fill="url(#st)"/>
<rect x="497.24" y="456.51" width="5.5" height="19.59" fill="url(#st)"/>
<rect x="502.33" y="464.64" width="5.5" height="11.46" fill="url(#st)"/>
<rect x="507.47" y="433.4" width="5.5" height="42.7" fill="url(#st)"/>
<rect x="512.54" y="458.35" width="5.5" height="17.75" fill="url(#st)"/>
<rect x="293.3" y="592.07" width="5.5" height="39.53" fill="url(#st)"/>
<rect x="298.4" y="587.07" width="5.5" height="44.53" fill="url(#st)"/>
<rect x="303.48" y="605.34" width="5.5" height="26.26" fill="url(#st)"/>
<rect x="308.57" y="611.59" width="5.5" height="20.01" fill="url(#st)"/>
<rect x="313.67" y="615.84" width="5.5" height="15.76" fill="url(#st)"/>
<rect x="318.81" y="582.82" width="5.5" height="48.78" fill="url(#st)"/>
<rect x="323.87" y="609.59" width="5.5" height="22.01" fill="url(#st)"/>
<rect x="329.11" y="508.27" width="5.5" height="123.33" fill="url(#st)"/>
<rect x="334.06" y="621.61" width="5.5" height="9.99" fill="url(#st)"/>
<rect x="339.19" y="600.34" width="5.5" height="31.26" fill="url(#st)"/>
<rect x="344.3" y="592.84" width="5.5" height="38.76" fill="url(#st)"/>
<rect x="349.37" y="612.85" width="5.5" height="18.75" fill="url(#st)"/>
<rect x="354.51" y="580.82" width="5.5" height="50.78" fill="url(#st)"/>
<rect x="359.56" y="623.35" width="5.5" height="8.25" fill="url(#st)"/>
<rect x="364.68" y="603.57" width="5.5" height="28.03" fill="url(#st)"/>
<rect x="369.8" y="589.58" width="5.5" height="42.02" fill="url(#st)"/>
<rect x="374.87" y="614.59" width="5.5" height="17.01" fill="url(#st)"/>
<rect x="380.03" y="567.04" width="5.5" height="64.56" fill="url(#st)"/>
<rect x="385.07" y="612.85" width="5.5" height="18.75" fill="url(#st)"/>
<rect x="390.27" y="541.03" width="4.75" height="90.57" fill="url(#st)"/>
<rect x="329.9" y="494.6" width="4.3" height="9.4" fill="url(#st)"/>
</g>
<g transform="matrix(1 0 -0.0027 1 0 0)">
<rect x="67.51" y="163.2" width="5.72" height="0.9" fill="#4a4a4a"/>
<rect x="147.59" y="162.84" width="5.72" height="1.27" fill="#4a4a4a"/>
<rect x="221.95" y="163.2" width="5.72" height="0.9" fill="#4a4a4a"/>
<line x1="38.46" y1="117.29" x2="45.08" y2="117.29" stroke="#3e3e3e" stroke-width="1"/>
<line x1="38.91" y1="116.89" x2="38.91" y2="164.1" stroke="#3e3e3e" stroke-width="1.05"/>
<line x1="44.63" y1="116.89" x2="44.63" y2="147.78" stroke="#3e3e3e" stroke-width="1.05"/>
<line x1="44.63" y1="147.78" x2="44.63" y2="164.1" stroke="#585858" stroke-width="0.9"/>
<line x1="44.18" y1="147.78" x2="50.8" y2="147.78" stroke="#3e3e3e" stroke-width="1"/>
<line x1="50.35" y1="147.38" x2="50.35" y2="164.1" stroke="#3e3e3e" stroke-width="1.05"/>
<line x1="55.62" y1="155.88" x2="62.24" y2="155.88" stroke="#3e3e3e" stroke-width="1"/>
<line x1="56.07" y1="155.48" x2="56.07" y2="164.1" stroke="#3e3e3e" stroke-width="1.05"/>
<line x1="61.79" y1="155.48" x2="61.79" y2="164.1" stroke="#3e3e3e" stroke-width="1.05"/>
<line x1="78.5" y1="161.06" x2="85.12" y2="161.06" stroke="#3e3e3e" stroke-width="1"/>
<line x1="78.95" y1="160.66" x2="78.95" y2="164.1" stroke="#3e3e3e" stroke-width="1.05"/>
<line x1="84.67" y1="160.66" x2="84.67" y2="161.57" stroke="#3e3e3e" stroke-width="1.05"/>
<line x1="84.67" y1="161.57" x2="84.67" y2="164.1" stroke="#585858" stroke-width="0.9"/>
<line x1="84.22" y1="161.57" x2="90.84" y2="161.57" stroke="#3e3e3e" stroke-width="1"/>
<line x1="90.39" y1="161.57" x2="90.39" y2="164.1" stroke="#585858" stroke-width="0.9"/>
<line x1="89.94" y1="154.61" x2="96.56" y2="154.61" stroke="#3e3e3e" stroke-width="1"/>
<line x1="90.39" y1="154.21" x2="90.39" y2="161.57" stroke="#3e3e3e" stroke-width="1.05"/>
<line x1="96.11" y1="154.21" x2="96.11" y2="156.38" stroke="#3e3e3e" stroke-width="1.05"/>
<line x1="96.11" y1="156.38" x2="96.11" y2="164.1" stroke="#585858" stroke-width="0.9"/>
<line x1="95.66" y1="156.38" x2="102.28" y2="156.38" stroke="#3e3e3e" stroke-width="1"/>
<line x1="101.83" y1="155.98" x2="101.83" y2="164.1" stroke="#3e3e3e" stroke-width="1.05"/>
<line x1="107.1" y1="157.78" x2="113.72" y2="157.78" stroke="#3e3e3e" stroke-width="1"/>
<line x1="107.55" y1="157.38" x2="107.55" y2="164.1" stroke="#3e3e3e" stroke-width="1.05"/>
<line x1="113.27" y1="157.38" x2="113.27" y2="159.04" stroke="#3e3e3e" stroke-width="1.05"/>
<line x1="113.27" y1="159.04" x2="113.27" y2="164.1" stroke="#585858" stroke-width="0.9"/>
<line x1="112.82" y1="159.04" x2="119.44" y2="159.04" stroke="#3e3e3e" stroke-width="1"/>
<line x1="118.99" y1="159.04" x2="118.99" y2="164.1" stroke="#585858" stroke-width="0.9"/>
<line x1="118.54" y1="158.41" x2="125.16" y2="158.41" stroke="#3e3e3e" stroke-width="1"/>
<line x1="118.99" y1="158.01" x2="118.99" y2="159.04" stroke="#3e3e3e" stroke-width="1.05"/>
<line x1="124.71" y1="158.01" x2="124.71" y2="164.1" stroke="#3e3e3e" stroke-width="1.05"/>
<line x1="135.7" y1="161.57" x2="142.32" y2="161.57" stroke="#3e3e3e" stroke-width="1"/>
<line x1="136.15" y1="161.17" x2="136.15" y2="164.1" stroke="#3e3e3e" stroke-width="1.05"/>
<line x1="141.87" y1="161.17" x2="141.87" y2="164.1" stroke="#3e3e3e" stroke-width="1.05"/>
<line x1="164.3" y1="161.57" x2="170.92" y2="161.57" stroke="#3e3e3e" stroke-width="1"/>
<line x1="164.75" y1="161.17" x2="164.75" y2="164.1" stroke="#3e3e3e" stroke-width="1.05"/>
<line x1="170.47" y1="161.17" x2="170.47" y2="164.1" stroke="#3e3e3e" stroke-width="1.05"/>
<line x1="175.74" y1="162.08" x2="182.36" y2="162.08" stroke="#3e3e3e" stroke-width="1"/>
<line x1="176.19" y1="161.68" x2="176.19" y2="164.1" stroke="#3e3e3e" stroke-width="1.05"/>
<line x1="181.91" y1="161.68" x2="181.91" y2="164.1" stroke="#3e3e3e" stroke-width="1.05"/>
<line x1="187.18" y1="160.31" x2="193.8" y2="160.31" stroke="#3e3e3e" stroke-width="1"/>
<line x1="187.63" y1="159.91" x2="187.63" y2="164.1" stroke="#3e3e3e" stroke-width="1.05"/>
<line x1="193.35" y1="159.91" x2="193.35" y2="164.1" stroke="#3e3e3e" stroke-width="1.05"/>
<line x1="198.62" y1="98.07" x2="205.24" y2="98.07" stroke="#3e3e3e" stroke-width="1"/>
<line x1="199.07" y1="97.67" x2="199.07" y2="164.1" stroke="#3e3e3e" stroke-width="1.05"/>
<line x1="204.79" y1="97.67" x2="204.79" y2="162.33" stroke="#3e3e3e" stroke-width="1.05"/>
<line x1="204.79" y1="162.33" x2="204.79" y2="164.1" stroke="#585858" stroke-width="0.9"/>
<line x1="204.34" y1="162.33" x2="210.96" y2="162.33" stroke="#3e3e3e" stroke-width="1"/>
<line x1="210.51" y1="162.33" x2="210.51" y2="164.1" stroke="#585858" stroke-width="0.9"/>
<line x1="210.06" y1="149.81" x2="216.68" y2="149.81" stroke="#3e3e3e" stroke-width="1"/>
<line x1="210.51" y1="149.41" x2="210.51" y2="162.33" stroke="#3e3e3e" stroke-width="1.05"/>
<line x1="216.23" y1="149.41" x2="216.23" y2="164.1" stroke="#3e3e3e" stroke-width="1.05"/>
<line x1="227.22" y1="113.5" x2="233.84" y2="113.5" stroke="#3e3e3e" stroke-width="1"/>
<line x1="227.67" y1="113.1" x2="227.67" y2="164.1" stroke="#3e3e3e" stroke-width="1.05"/>
<line x1="233.39" y1="113.5" x2="233.39" y2="164.1" stroke="#585858" stroke-width="0.9"/>
<line x1="232.94" y1="93.26" x2="239.56" y2="93.26" stroke="#3e3e3e" stroke-width="1"/>
<line x1="233.39" y1="92.86" x2="233.39" y2="113.5" stroke="#3e3e3e" stroke-width="1.05"/>
<line x1="239.11" y1="93.26" x2="239.11" y2="164.1" stroke="#585858" stroke-width="0.9"/>
<line x1="238.66" y1="42.66" x2="245.28" y2="42.66" stroke="#3e3e3e" stroke-width="1"/>
<line x1="239.11" y1="42.26" x2="239.11" y2="93.26" stroke="#3e3e3e" stroke-width="1.05"/>
<line x1="244.83" y1="42.26" x2="244.83" y2="164.1" stroke="#3e3e3e" stroke-width="1.05"/>
<line x1="21.4" y1="164.1" x2="245.43" y2="164.1" stroke="#222" stroke-width="1.15"/>
<line x1="21.9" y1="37.1" x2="21.9" y2="164.6" stroke="#4a4a4a" stroke-width="0.85"/>
<line x1="19.5" y1="164.1" x2="21.9" y2="164.1" stroke="#2a2a2a" stroke-width="0.9"/>
<text transform="translate(18.6 165.85) scale(0.93 1)" font-size="8.1" text-anchor="end" class="tk">0</text>
<line x1="19.5" y1="151.45" x2="21.9" y2="151.45" stroke="#2a2a2a" stroke-width="0.9"/>
<text transform="translate(18.6 153.12) scale(0.93 1)" font-size="8.1" text-anchor="end" class="tk">100</text>
<line x1="19.5" y1="138.8" x2="21.9" y2="138.8" stroke="#2a2a2a" stroke-width="0.9"/>
<text transform="translate(18.6 140.4) scale(0.93 1)" font-size="8.1" text-anchor="end" class="tk">200</text>
<line x1="19.5" y1="126.15" x2="21.9" y2="126.15" stroke="#2a2a2a" stroke-width="0.9"/>
<text transform="translate(18.6 127.67) scale(0.93 1)" font-size="8.1" text-anchor="end" class="tk">300</text>
<line x1="19.5" y1="113.5" x2="21.9" y2="113.5" stroke="#2a2a2a" stroke-width="0.9"/>
<text transform="translate(18.6 114.95) scale(0.93 1)" font-size="8.1" text-anchor="end" class="tk">400</text>
<line x1="19.5" y1="100.85" x2="21.9" y2="100.85" stroke="#2a2a2a" stroke-width="0.9"/>
<text transform="translate(18.6 102.22) scale(0.93 1)" font-size="8.1" text-anchor="end" class="tk">500</text>
<line x1="19.5" y1="88.2" x2="21.9" y2="88.2" stroke="#2a2a2a" stroke-width="0.9"/>
<text transform="translate(18.6 89.5) scale(0.93 1)" font-size="8.1" text-anchor="end" class="tk">600</text>
<line x1="19.5" y1="75.55" x2="21.9" y2="75.55" stroke="#2a2a2a" stroke-width="0.9"/>
<text transform="translate(18.6 76.77) scale(0.93 1)" font-size="8.1" text-anchor="end" class="tk">700</text>
<line x1="19.5" y1="62.9" x2="21.9" y2="62.9" stroke="#2a2a2a" stroke-width="0.9"/>
<text transform="translate(18.6 64.05) scale(0.93 1)" font-size="8.1" text-anchor="end" class="tk">800</text>
<line x1="19.5" y1="50.25" x2="21.9" y2="50.25" stroke="#2a2a2a" stroke-width="0.9"/>
<text transform="translate(18.6 51.33) scale(0.93 1)" font-size="8.1" text-anchor="end" class="tk">900</text>
<line x1="19.5" y1="37.6" x2="21.9" y2="37.6" stroke="#2a2a2a" stroke-width="0.9"/>
<text transform="translate(18.6 38.6) scale(0.93 1)" font-size="8.1" text-anchor="end" class="tk">1000</text>
<text transform="translate(25.7 27.4) scale(0.985 1)" font-size="11.5" class="tt">HOXA9</text>
<rect x="67.51" y="319.2" width="5.72" height="0.9" fill="#4a4a4a"/>
<line x1="21.3" y1="313.36" x2="27.92" y2="313.36" stroke="#3e3e3e" stroke-width="1"/>
<line x1="21.75" y1="312.96" x2="21.75" y2="320.1" stroke="#3e3e3e" stroke-width="1.05"/>
<line x1="27.47" y1="313.36" x2="27.47" y2="320.1" stroke="#585858" stroke-width="0.9"/>
<line x1="27.02" y1="305.33" x2="33.64" y2="305.33" stroke="#3e3e3e" stroke-width="1"/>
<line x1="27.47" y1="304.93" x2="27.47" y2="313.36" stroke="#3e3e3e" stroke-width="1.05"/>
<line x1="33.19" y1="304.93" x2="33.19" y2="314.64" stroke="#3e3e3e" stroke-width="1.05"/>
<line x1="33.19" y1="314.64" x2="33.19" y2="320.1" stroke="#585858" stroke-width="0.9"/>
<line x1="32.74" y1="314.64" x2="39.36" y2="314.64" stroke="#3e3e3e" stroke-width="1"/>
<line x1="38.91" y1="314.64" x2="38.91" y2="320.1" stroke="#585858" stroke-width="0.9"/>
<line x1="38.46" y1="299.07" x2="45.08" y2="299.07" stroke="#3e3e3e" stroke-width="1"/>
<line x1="38.91" y1="298.67" x2="38.91" y2="314.64" stroke="#3e3e3e" stroke-width="1.05"/>
<line x1="44.63" y1="299.07" x2="44.63" y2="320.1" stroke="#585858" stroke-width="0.9"/>
<line x1="44.18" y1="281.58" x2="50.8" y2="281.58" stroke="#3e3e3e" stroke-width="1"/>
<line x1="44.63" y1="281.18" x2="44.63" y2="299.07" stroke="#3e3e3e" stroke-width="1.05"/>
<line x1="50.35" y1="281.18" x2="50.35" y2="307.9" stroke="#3e3e3e" stroke-width="1.05"/>
<line x1="50.35" y1="307.9" x2="50.35" y2="320.1" stroke="#585858" stroke-width="0.9"/>
<line x1="49.9" y1="307.9" x2="56.52" y2="307.9" stroke="#3e3e3e" stroke-width="1"/>
<line x1="56.07" y1="307.9" x2="56.07" y2="320.1" stroke="#585858" stroke-width="0.9"/>
<line x1="55.62" y1="300.36" x2="62.24" y2="300.36" stroke="#3e3e3e" stroke-width="1"/>
<line x1="56.07" y1="299.96" x2="56.07" y2="307.9" stroke="#3e3e3e" stroke-width="1.05"/>
<line x1="61.79" y1="300.36" x2="61.79" y2="320.1" stroke="#585858" stroke-width="0.9"/>
<line x1="61.34" y1="270.83" x2="67.96" y2="270.83" stroke="#3e3e3e" stroke-width="1"/>
<line x1="61.79" y1="270.43" x2="61.79" y2="300.36" stroke="#3e3e3e" stroke-width="1.05"/>
<line x1="67.51" y1="270.43" x2="67.51" y2="320.1" stroke="#3e3e3e" stroke-width="1.05"/>
<line x1="72.78" y1="302.28" x2="79.4" y2="302.28" stroke="#3e3e3e" stroke-width="1"/>
<line x1="73.23" y1="301.88" x2="73.23" y2="320.1" stroke="#3e3e3e" stroke-width="1.05"/>
<line x1="78.95" y1="302.28" x2="78.95" y2="320.1" stroke="#585858" stroke-width="0.9"/>
<line x1="78.5" y1="294.58" x2="85.12" y2="294.58" stroke="#3e3e3e" stroke-width="1"/>
<line x1="78.95" y1="294.18" x2="78.95" y2="302.28" stroke="#3e3e3e" stroke-width="1.05"/>
<line x1="84.67" y1="294.18" x2="84.67" y2="316.57" stroke="#3e3e3e" stroke-width="1.05"/>
<line x1="84.67" y1="316.57" x2="84.67" y2="320.1" stroke="#585858" stroke-width="0.9"/>
<line x1="84.22" y1="316.57" x2="90.84" y2="316.57" stroke="#3e3e3e" stroke-width="1"/>
<line x1="90.39" y1="316.57" x2="90.39" y2="320.1" stroke="#585858" stroke-width="0.9"/>
<line x1="89.94" y1="298.27" x2="96.56" y2="298.27" stroke="#3e3e3e" stroke-width="1"/>
<line x1="90.39" y1="297.87" x2="90.39" y2="316.57" stroke="#3e3e3e" stroke-width="1.05"/>
<line x1="96.11" y1="298.27" x2="96.11" y2="320.1" stroke="#585858" stroke-width="0.9"/>
<line x1="95.66" y1="289.77" x2="102.28" y2="289.77" stroke="#3e3e3e" stroke-width="1"/>
<line x1="96.11" y1="289.37" x2="96.11" y2="298.27" stroke="#3e3e3e" stroke-width="1.05"/>
<line x1="101.83" y1="289.37" x2="101.83" y2="304.05" stroke="#3e3e3e" stroke-width="1.05"/>
<line x1="101.83" y1="304.05" x2="101.83" y2="320.1" stroke="#585858" stroke-width="0.9"/>
<line x1="101.38" y1="304.05" x2="108" y2="304.05" stroke="#3e3e3e" stroke-width="1"/>
<line x1="107.55" y1="304.05" x2="107.55" y2="320.1" stroke="#585858" stroke-width="0.9"/>
<line x1="107.1" y1="298.27" x2="113.72" y2="298.27" stroke="#3e3e3e" stroke-width="1"/>
<line x1="107.55" y1="297.87" x2="107.55" y2="304.05" stroke="#3e3e3e" stroke-width="1.05"/>
<line x1="113.27" y1="297.87" x2="113.27" y2="305.33" stroke="#3e3e3e" stroke-width="1.05"/>
<line x1="113.27" y1="305.33" x2="113.27" y2="320.1" stroke="#585858" stroke-width="0.9"/>
<line x1="112.82" y1="305.33" x2="119.44" y2="305.33" stroke="#3e3e3e" stroke-width="1"/>
<line x1="118.99" y1="305.33" x2="118.99" y2="320.1" stroke="#585858" stroke-width="0.9"/>
<line x1="118.54" y1="302.77" x2="125.16" y2="302.77" stroke="#3e3e3e" stroke-width="1"/>
<line x1="118.99" y1="302.37" x2="118.99" y2="305.33" stroke="#3e3e3e" stroke-width="1.05"/>
<line x1="124.71" y1="302.37" x2="124.71" y2="306.62" stroke="#3e3e3e" stroke-width="1.05"/>
<line x1="124.71" y1="306.62" x2="124.71" y2="320.1" stroke="#585858" stroke-width="0.9"/>
<line x1="124.26" y1="306.62" x2="130.88" y2="306.62" stroke="#3e3e3e" stroke-width="1"/>
<line x1="130.43" y1="306.22" x2="130.43" y2="310.79" stroke="#3e3e3e" stroke-width="1.05"/>
<line x1="130.43" y1="310.79" x2="130.43" y2="320.1" stroke="#585858" stroke-width="0.9"/>
<line x1="129.98" y1="310.79" x2="136.6" y2="310.79" stroke="#3e3e3e" stroke-width="1"/>
<line x1="136.15" y1="310.79" x2="136.15" y2="320.1" stroke="#585858" stroke-width="0.9"/>
<line x1="135.7" y1="301.64" x2="142.32" y2="301.64" stroke="#3e3e3e" stroke-width="1"/>
<line x1="136.15" y1="301.24" x2="136.15" y2="310.79" stroke="#3e3e3e" stroke-width="1.05"/>
<line x1="141.87" y1="301.24" x2="141.87" y2="313.36" stroke="#3e3e3e" stroke-width="1.05"/>
<line x1="141.87" y1="313.36" x2="141.87" y2="320.1" stroke="#585858" stroke-width="0.9"/>
<line x1="141.42" y1="313.36" x2="148.04" y2="313.36" stroke="#3e3e3e" stroke-width="1"/>
<line x1="147.59" y1="313.36" x2="147.59" y2="320.1" stroke="#585858" stroke-width="0.9"/>
<line x1="147.14" y1="309.03" x2="153.76" y2="309.03" stroke="#3e3e3e" stroke-width="1"/>
<line x1="147.59" y1="308.63" x2="147.59" y2="313.36" stroke="#3e3e3e" stroke-width="1.05"/>
<line x1="153.31" y1="309.03" x2="153.31" y2="320.1" stroke="#585858" stroke-width="0.9"/>
<line x1="152.86" y1="305.33" x2="159.48" y2="305.33" stroke="#3e3e3e" stroke-width="1"/>
<line x1="153.31" y1="304.93" x2="153.31" y2="309.03" stroke="#3e3e3e" stroke-width="1.05"/>
<line x1="159.03" y1="304.93" x2="159.03" y2="313.36" stroke="#3e3e3e" stroke-width="1.05"/>
<line x1="159.03" y1="313.36" x2="159.03" y2="320.1" stroke="#585858" stroke-width="0.9"/>
<line x1="158.58" y1="313.36" x2="165.2" y2="313.36" stroke="#3e3e3e" stroke-width="1"/>
<line x1="164.75" y1="312.96" x2="164.75" y2="317.21" stroke="#3e3e3e" stroke-width="1.05"/>
<line x1="164.75" y1="317.21" x2="164.75" y2="320.1" stroke="#585858" stroke-width="0.9"/>
<line x1="164.3" y1="317.21" x2="170.92" y2="317.21" stroke="#3e3e3e" stroke-width="1"/>
<line x1="170.47" y1="317.21" x2="170.47" y2="320.1" stroke="#585858" stroke-width="0.9"/>
<line x1="170.02" y1="297.79" x2="176.64" y2="297.79" stroke="#3e3e3e" stroke-width="1"/>
<line x1="170.47" y1="297.39" x2="170.47" y2="317.21" stroke="#3e3e3e" stroke-width="1.05"/>
<line x1="176.19" y1="297.39" x2="176.19" y2="307.42" stroke="#3e3e3e" stroke-width="1.05"/>
<line x1="176.19" y1="307.42" x2="176.19" y2="320.1" stroke="#585858" stroke-width="0.9"/>
<line x1="175.74" y1="307.42" x2="182.36" y2="307.42" stroke="#3e3e3e" stroke-width="1"/>
<line x1="181.91" y1="307.02" x2="181.91" y2="309.83" stroke="#3e3e3e" stroke-width="1.05"/>
<line x1="181.91" y1="309.83" x2="181.91" y2="320.1" stroke="#585858" stroke-width="0.9"/>
<line x1="181.46" y1="309.83" x2="188.08" y2="309.83" stroke="#3e3e3e" stroke-width="1"/>
<line x1="187.63" y1="309.83" x2="187.63" y2="320.1" stroke="#585858" stroke-width="0.9"/>
<line x1="187.18" y1="302.93" x2="193.8" y2="302.93" stroke="#3e3e3e" stroke-width="1"/>
<line x1="187.63" y1="302.53" x2="187.63" y2="309.83" stroke="#3e3e3e" stroke-width="1.05"/>
<line x1="193.35" y1="302.53" x2="193.35" y2="316.73" stroke="#3e3e3e" stroke-width="1.05"/>
<line x1="193.35" y1="316.73" x2="193.35" y2="320.1" stroke="#585858" stroke-width="0.9"/>
<line x1="192.9" y1="316.73" x2="199.52" y2="316.73" stroke="#3e3e3e" stroke-width="1"/>
<line x1="199.07" y1="316.73" x2="199.07" y2="320.1" stroke="#585858" stroke-width="0.9"/>
<line x1="198.62" y1="205.5" x2="205.24" y2="205.5" stroke="#3e3e3e" stroke-width="1"/>
<line x1="199.07" y1="205.1" x2="199.07" y2="316.73" stroke="#3e3e3e" stroke-width="1.05"/>
<line x1="204.79" y1="205.1" x2="204.79" y2="311.59" stroke="#3e3e3e" stroke-width="1.05"/>
<line x1="204.79" y1="311.59" x2="204.79" y2="320.1" stroke="#585858" stroke-width="0.9"/>
<line x1="204.34" y1="311.59" x2="210.96" y2="311.59" stroke="#3e3e3e" stroke-width="1"/>
<line x1="210.51" y1="311.59" x2="210.51" y2="320.1" stroke="#585858" stroke-width="0.9"/>
<line x1="210.06" y1="305.82" x2="216.68" y2="305.82" stroke="#3e3e3e" stroke-width="1"/>
<line x1="210.51" y1="305.42" x2="210.51" y2="311.59" stroke="#3e3e3e" stroke-width="1.05"/>
<line x1="216.23" y1="305.82" x2="216.23" y2="320.1" stroke="#585858" stroke-width="0.9"/>
<line x1="215.78" y1="304.37" x2="222.4" y2="304.37" stroke="#3e3e3e" stroke-width="1"/>
<line x1="216.23" y1="303.97" x2="216.23" y2="305.82" stroke="#3e3e3e" stroke-width="1.05"/>
<line x1="221.95" y1="303.97" x2="221.95" y2="312.88" stroke="#3e3e3e" stroke-width="1.05"/>
<line x1="221.95" y1="312.88" x2="221.95" y2="320.1" stroke="#585858" stroke-width="0.9"/>
<line x1="221.5" y1="312.88" x2="228.12" y2="312.88" stroke="#3e3e3e" stroke-width="1"/>
<line x1="227.67" y1="312.88" x2="227.67" y2="320.1" stroke="#585858" stroke-width="0.9"/>
<line x1="227.22" y1="280.78" x2="233.84" y2="280.78" stroke="#3e3e3e" stroke-width="1"/>
<line x1="227.67" y1="280.38" x2="227.67" y2="312.88" stroke="#3e3e3e" stroke-width="1.05"/>
<line x1="233.39" y1="280.78" x2="233.39" y2="320.1" stroke="#585858" stroke-width="0.9"/>
<line x1="232.94" y1="266.97" x2="239.56" y2="266.97" stroke="#3e3e3e" stroke-width="1"/>
<line x1="233.39" y1="266.57" x2="233.39" y2="280.78" stroke="#3e3e3e" stroke-width="1.05"/>
<line x1="239.11" y1="266.97" x2="239.11" y2="320.1" stroke="#585858" stroke-width="0.9"/>
<line x1="238.66" y1="194.75" x2="245.28" y2="194.75" stroke="#3e3e3e" stroke-width="1"/>
<line x1="239.11" y1="194.35" x2="239.11" y2="266.97" stroke="#3e3e3e" stroke-width="1.05"/>
<line x1="244.83" y1="194.35" x2="244.83" y2="320.1" stroke="#3e3e3e" stroke-width="1.05"/>
<line x1="21.4" y1="320.1" x2="245.43" y2="320.1" stroke="#222" stroke-width="1.15"/>
<line x1="21.9" y1="191.2" x2="21.9" y2="320.6" stroke="#4a4a4a" stroke-width="0.85"/>
<line x1="19.5" y1="320.1" x2="21.9" y2="320.1" stroke="#2a2a2a" stroke-width="0.9"/>
<text transform="translate(18.6 321.65) scale(0.93 1)" font-size="8.1" text-anchor="end" class="tk">0</text>
<line x1="19.5" y1="304.05" x2="21.9" y2="304.05" stroke="#2a2a2a" stroke-width="0.9"/>
<text transform="translate(18.6 305.53) scale(0.93 1)" font-size="8.1" text-anchor="end" class="tk">100</text>
<line x1="19.5" y1="288" x2="21.9" y2="288" stroke="#2a2a2a" stroke-width="0.9"/>
<text transform="translate(18.6 289.4) scale(0.93 1)" font-size="8.1" text-anchor="end" class="tk">200</text>
<line x1="19.5" y1="271.95" x2="21.9" y2="271.95" stroke="#2a2a2a" stroke-width="0.9"/>
<text transform="translate(18.6 273.27) scale(0.93 1)" font-size="8.1" text-anchor="end" class="tk">300</text>
<line x1="19.5" y1="255.9" x2="21.9" y2="255.9" stroke="#2a2a2a" stroke-width="0.9"/>
<text transform="translate(18.6 257.15) scale(0.93 1)" font-size="8.1" text-anchor="end" class="tk">400</text>
<line x1="19.5" y1="239.85" x2="21.9" y2="239.85" stroke="#2a2a2a" stroke-width="0.9"/>
<text transform="translate(18.6 241.03) scale(0.93 1)" font-size="8.1" text-anchor="end" class="tk">500</text>
<line x1="19.5" y1="223.8" x2="21.9" y2="223.8" stroke="#2a2a2a" stroke-width="0.9"/>
<text transform="translate(18.6 224.9) scale(0.93 1)" font-size="8.1" text-anchor="end" class="tk">600</text>
<line x1="19.5" y1="207.75" x2="21.9" y2="207.75" stroke="#2a2a2a" stroke-width="0.9"/>
<text transform="translate(18.6 208.78) scale(0.93 1)" font-size="8.1" text-anchor="end" class="tk">700</text>
<line x1="19.5" y1="191.7" x2="21.9" y2="191.7" stroke="#2a2a2a" stroke-width="0.9"/>
<text transform="translate(18.6 192.65) scale(0.93 1)" font-size="8.1" text-anchor="end" class="tk">800</text>
<text transform="translate(26.2 181.4) scale(0.985 1)" font-size="11.5" class="tt">HOXA10</text>
<line x1="141.42" y1="473.52" x2="148.04" y2="473.52" stroke="#3e3e3e" stroke-width="1"/>
<line x1="141.87" y1="473.12" x2="141.87" y2="476.1" stroke="#3e3e3e" stroke-width="1.05"/>
<line x1="147.59" y1="473.12" x2="147.59" y2="476.1" stroke="#3e3e3e" stroke-width="1.05"/>
<line x1="198.62" y1="449.03" x2="205.24" y2="449.03" stroke="#3e3e3e" stroke-width="1"/>
<line x1="199.07" y1="448.63" x2="199.07" y2="476.1" stroke="#3e3e3e" stroke-width="1.05"/>
<line x1="204.79" y1="448.63" x2="204.79" y2="474.49" stroke="#3e3e3e" stroke-width="1.05"/>
<line x1="204.79" y1="474.49" x2="204.79" y2="476.1" stroke="#585858" stroke-width="0.9"/>
<line x1="204.34" y1="474.49" x2="210.96" y2="474.49" stroke="#3e3e3e" stroke-width="1"/>
<line x1="210.51" y1="474.09" x2="210.51" y2="476.1" stroke="#3e3e3e" stroke-width="1.05"/>
<line x1="215.78" y1="466.11" x2="222.4" y2="466.11" stroke="#3e3e3e" stroke-width="1"/>
<line x1="216.23" y1="465.71" x2="216.23" y2="476.1" stroke="#3e3e3e" stroke-width="1.05"/>
<line x1="221.95" y1="465.71" x2="221.95" y2="476.1" stroke="#3e3e3e" stroke-width="1.05"/>
<line x1="227.22" y1="426.47" x2="233.84" y2="426.47" stroke="#3e3e3e" stroke-width="1"/>
<line x1="227.67" y1="426.07" x2="227.67" y2="476.1" stroke="#3e3e3e" stroke-width="1.05"/>
<line x1="233.39" y1="426.47" x2="233.39" y2="476.1" stroke="#585858" stroke-width="0.9"/>
<line x1="232.94" y1="416.48" x2="239.56" y2="416.48" stroke="#3e3e3e" stroke-width="1"/>
<line x1="233.39" y1="416.08" x2="233.39" y2="426.47" stroke="#3e3e3e" stroke-width="1.05"/>
<line x1="239.11" y1="416.48" x2="239.11" y2="476.1" stroke="#585858" stroke-width="0.9"/>
<line x1="238.66" y1="347.2" x2="245.28" y2="347.2" stroke="#3e3e3e" stroke-width="1"/>
<line x1="239.11" y1="346.8" x2="239.11" y2="416.48" stroke="#3e3e3e" stroke-width="1.05"/>
<line x1="244.83" y1="346.8" x2="244.83" y2="476.1" stroke="#3e3e3e" stroke-width="1.05"/>
<line x1="21.4" y1="476.1" x2="245.43" y2="476.1" stroke="#222" stroke-width="1.15"/>
<line x1="21.9" y1="346.7" x2="21.9" y2="476.6" stroke="#4a4a4a" stroke-width="0.85"/>
<line x1="19.5" y1="476.1" x2="21.9" y2="476.1" stroke="#2a2a2a" stroke-width="0.9"/>
<text transform="translate(18.6 477.6) scale(0.93 1)" font-size="8.1" text-anchor="end" class="tk">0</text>
<line x1="19.5" y1="459.99" x2="21.9" y2="459.99" stroke="#2a2a2a" stroke-width="0.9"/>
<text transform="translate(18.6 461.48) scale(0.93 1)" font-size="8.1" text-anchor="end" class="tk">100</text>
<line x1="19.5" y1="443.88" x2="21.9" y2="443.88" stroke="#2a2a2a" stroke-width="0.9"/>
<text transform="translate(18.6 445.35) scale(0.93 1)" font-size="8.1" text-anchor="end" class="tk">200</text>
<line x1="19.5" y1="427.76" x2="21.9" y2="427.76" stroke="#2a2a2a" stroke-width="0.9"/>
<text transform="translate(18.6 429.22) scale(0.93 1)" font-size="8.1" text-anchor="end" class="tk">300</text>
<line x1="19.5" y1="411.65" x2="21.9" y2="411.65" stroke="#2a2a2a" stroke-width="0.9"/>
<text transform="translate(18.6 413.1) scale(0.93 1)" font-size="8.1" text-anchor="end" class="tk">400</text>
<line x1="19.5" y1="395.54" x2="21.9" y2="395.54" stroke="#2a2a2a" stroke-width="0.9"/>
<text transform="translate(18.6 396.98) scale(0.93 1)" font-size="8.1" text-anchor="end" class="tk">500</text>
<line x1="19.5" y1="379.43" x2="21.9" y2="379.43" stroke="#2a2a2a" stroke-width="0.9"/>
<text transform="translate(18.6 380.85) scale(0.93 1)" font-size="8.1" text-anchor="end" class="tk">600</text>
<line x1="19.5" y1="363.31" x2="21.9" y2="363.31" stroke="#2a2a2a" stroke-width="0.9"/>
<text transform="translate(18.6 364.73) scale(0.93 1)" font-size="8.1" text-anchor="end" class="tk">700</text>
<line x1="19.5" y1="347.2" x2="21.9" y2="347.2" stroke="#2a2a2a" stroke-width="0.9"/>
<text transform="translate(18.6 348.6) scale(0.93 1)" font-size="8.1" text-anchor="end" class="tk">800</text>
<text transform="translate(25.5 336.9) scale(1.01 1)" font-size="11.5" class="tt">HOXC6</text>
<line x1="21.3" y1="626.46" x2="27.92" y2="626.46" stroke="#3e3e3e" stroke-width="1"/>
<line x1="21.75" y1="626.06" x2="21.75" y2="631.6" stroke="#3e3e3e" stroke-width="1.05"/>
<line x1="27.47" y1="626.06" x2="27.47" y2="631.6" stroke="#3e3e3e" stroke-width="1.05"/>
<line x1="38.46" y1="574.68" x2="45.08" y2="574.68" stroke="#3e3e3e" stroke-width="1"/>
<line x1="38.91" y1="574.28" x2="38.91" y2="631.6" stroke="#3e3e3e" stroke-width="1.05"/>
<line x1="44.63" y1="574.28" x2="44.63" y2="596.93" stroke="#3e3e3e" stroke-width="1.05"/>
<line x1="44.63" y1="596.93" x2="44.63" y2="631.6" stroke="#585858" stroke-width="0.9"/>
<line x1="44.18" y1="596.93" x2="50.8" y2="596.93" stroke="#3e3e3e" stroke-width="1"/>
<line x1="50.35" y1="596.53" x2="50.35" y2="631.6" stroke="#3e3e3e" stroke-width="1.05"/>
<line x1="95.66" y1="619.62" x2="102.28" y2="619.62" stroke="#3e3e3e" stroke-width="1"/>
<line x1="96.11" y1="619.22" x2="96.11" y2="631.6" stroke="#3e3e3e" stroke-width="1.05"/>
<line x1="101.83" y1="619.22" x2="101.83" y2="631.6" stroke="#3e3e3e" stroke-width="1.05"/>
<line x1="112.82" y1="623.47" x2="119.44" y2="623.47" stroke="#3e3e3e" stroke-width="1"/>
<line x1="113.27" y1="623.07" x2="113.27" y2="631.6" stroke="#3e3e3e" stroke-width="1.05"/>
<line x1="118.99" y1="623.47" x2="118.99" y2="631.6" stroke="#585858" stroke-width="0.9"/>
<line x1="118.54" y1="617.48" x2="125.16" y2="617.48" stroke="#3e3e3e" stroke-width="1"/>
<line x1="118.99" y1="617.08" x2="118.99" y2="623.47" stroke="#3e3e3e" stroke-width="1.05"/>
<line x1="124.71" y1="617.08" x2="124.71" y2="631.6" stroke="#3e3e3e" stroke-width="1.05"/>
<line x1="147.14" y1="609.77" x2="153.76" y2="609.77" stroke="#3e3e3e" stroke-width="1"/>
<line x1="147.59" y1="609.37" x2="147.59" y2="631.6" stroke="#3e3e3e" stroke-width="1.05"/>
<line x1="153.31" y1="609.37" x2="153.31" y2="631.6" stroke="#3e3e3e" stroke-width="1.05"/>
<line x1="158.58" y1="619.62" x2="165.2" y2="619.62" stroke="#3e3e3e" stroke-width="1"/>
<line x1="159.03" y1="619.22" x2="159.03" y2="631.6" stroke="#3e3e3e" stroke-width="1.05"/>
<line x1="164.75" y1="619.22" x2="164.75" y2="631.6" stroke="#3e3e3e" stroke-width="1.05"/>
<line x1="227.22" y1="539.58" x2="233.84" y2="539.58" stroke="#3e3e3e" stroke-width="1"/>
<line x1="227.67" y1="539.18" x2="227.67" y2="631.6" stroke="#3e3e3e" stroke-width="1.05"/>
<line x1="233.39" y1="539.58" x2="233.39" y2="631.6" stroke="#585858" stroke-width="0.9"/>
<line x1="232.94" y1="516.47" x2="239.56" y2="516.47" stroke="#3e3e3e" stroke-width="1"/>
<line x1="233.39" y1="516.07" x2="233.39" y2="539.58" stroke="#3e3e3e" stroke-width="1.05"/>
<line x1="239.11" y1="516.07" x2="239.11" y2="563.55" stroke="#3e3e3e" stroke-width="1.05"/>
<line x1="239.11" y1="563.55" x2="239.11" y2="631.6" stroke="#585858" stroke-width="0.9"/>
<line x1="238.66" y1="563.55" x2="245.28" y2="563.55" stroke="#3e3e3e" stroke-width="1"/>
<line x1="244.83" y1="563.15" x2="244.83" y2="631.6" stroke="#3e3e3e" stroke-width="1.05"/>
<line x1="21.4" y1="631.6" x2="245.43" y2="631.6" stroke="#222" stroke-width="1.15"/>
<line x1="21.9" y1="502.7" x2="21.9" y2="632.1" stroke="#4a4a4a" stroke-width="0.85"/>
<line x1="19.5" y1="631.6" x2="21.9" y2="631.6" stroke="#2a2a2a" stroke-width="0.9"/>
<text transform="translate(18.6 633.15) scale(0.93 1)" font-size="8.1" text-anchor="end" class="tk">0</text>
<line x1="19.5" y1="610.2" x2="21.9" y2="610.2" stroke="#2a2a2a" stroke-width="0.9"/>
<text transform="translate(18.6 611.75) scale(0.93 1)" font-size="8.1" text-anchor="end" class="tk">50</text>
<line x1="19.5" y1="588.8" x2="21.9" y2="588.8" stroke="#2a2a2a" stroke-width="0.9"/>
<text transform="translate(18.6 590.35) scale(0.93 1)" font-size="8.1" text-anchor="end" class="tk">100</text>
<line x1="19.5" y1="567.4" x2="21.9" y2="567.4" stroke="#2a2a2a" stroke-width="0.9"/>
<text transform="translate(18.6 568.95) scale(0.93 1)" font-size="8.1" text-anchor="end" class="tk">150</text>
<line x1="19.5" y1="546" x2="21.9" y2="546" stroke="#2a2a2a" stroke-width="0.9"/>
<text transform="translate(18.6 547.55) scale(0.93 1)" font-size="8.1" text-anchor="end" class="tk">200</text>
<line x1="19.5" y1="524.6" x2="21.9" y2="524.6" stroke="#2a2a2a" stroke-width="0.9"/>
<text transform="translate(18.6 526.15) scale(0.93 1)" font-size="8.1" text-anchor="end" class="tk">250</text>
<line x1="19.5" y1="503.2" x2="21.9" y2="503.2" stroke="#2a2a2a" stroke-width="0.9"/>
<text transform="translate(18.6 504.75) scale(0.93 1)" font-size="8.1" text-anchor="end" class="tk">300</text>
<text transform="translate(26.2 493.2) scale(0.985 1)" font-size="11.5" class="tt">MEIS1</text>
<rect x="345.9" y="163.2" width="5.1" height="0.9" fill="#4a4a4a"/>
<line x1="294.45" y1="137.83" x2="300.45" y2="137.83" stroke="#3e3e3e" stroke-width="1"/>
<line x1="294.9" y1="137.43" x2="294.9" y2="164.1" stroke="#3e3e3e" stroke-width="1.05"/>
<line x1="300" y1="137.83" x2="300" y2="164.1" stroke="#585858" stroke-width="0.9"/>
<line x1="299.55" y1="119.57" x2="305.55" y2="119.57" stroke="#3e3e3e" stroke-width="1"/>
<line x1="300" y1="119.17" x2="300" y2="137.83" stroke="#3e3e3e" stroke-width="1.05"/>
<line x1="305.1" y1="119.17" x2="305.1" y2="136.58" stroke="#3e3e3e" stroke-width="1.05"/>
<line x1="305.1" y1="136.58" x2="305.1" y2="164.1" stroke="#585858" stroke-width="0.9"/>
<line x1="304.65" y1="136.58" x2="310.65" y2="136.58" stroke="#3e3e3e" stroke-width="1"/>
<line x1="310.2" y1="136.18" x2="310.2" y2="158.34" stroke="#3e3e3e" stroke-width="1.05"/>
<line x1="310.2" y1="158.34" x2="310.2" y2="164.1" stroke="#585858" stroke-width="0.9"/>
<line x1="309.75" y1="158.34" x2="315.75" y2="158.34" stroke="#3e3e3e" stroke-width="1"/>
<line x1="315.3" y1="157.94" x2="315.3" y2="164.1" stroke="#3e3e3e" stroke-width="1.05"/>
<line x1="319.95" y1="114.56" x2="325.95" y2="114.56" stroke="#3e3e3e" stroke-width="1"/>
<line x1="320.4" y1="114.16" x2="320.4" y2="164.1" stroke="#3e3e3e" stroke-width="1.05"/>
<line x1="325.5" y1="114.16" x2="325.5" y2="134.83" stroke="#3e3e3e" stroke-width="1.05"/>
<line x1="325.5" y1="134.83" x2="325.5" y2="164.1" stroke="#585858" stroke-width="0.9"/>
<line x1="325.05" y1="134.83" x2="331.05" y2="134.83" stroke="#3e3e3e" stroke-width="1"/>
<line x1="330.6" y1="134.83" x2="330.6" y2="164.1" stroke="#585858" stroke-width="0.9"/>
<line x1="330.15" y1="134.83" x2="336.15" y2="134.83" stroke="#3e3e3e" stroke-width="1"/>
<line x1="335.7" y1="134.43" x2="335.7" y2="139.58" stroke="#3e3e3e" stroke-width="1.05"/>
<line x1="335.7" y1="139.58" x2="335.7" y2="164.1" stroke="#585858" stroke-width="0.9"/>
<line x1="335.25" y1="139.58" x2="341.25" y2="139.58" stroke="#3e3e3e" stroke-width="1"/>
<line x1="340.8" y1="139.18" x2="340.8" y2="141.58" stroke="#3e3e3e" stroke-width="1.05"/>
<line x1="340.8" y1="141.58" x2="340.8" y2="164.1" stroke="#585858" stroke-width="0.9"/>
<line x1="340.35" y1="141.58" x2="346.35" y2="141.58" stroke="#3e3e3e" stroke-width="1"/>
<line x1="345.9" y1="141.18" x2="345.9" y2="164.1" stroke="#3e3e3e" stroke-width="1.05"/>
<line x1="350.55" y1="161.58" x2="356.55" y2="161.58" stroke="#3e3e3e" stroke-width="1"/>
<line x1="351" y1="161.18" x2="351" y2="164.1" stroke="#3e3e3e" stroke-width="1.05"/>
<line x1="356.1" y1="161.58" x2="356.1" y2="164.1" stroke="#585858" stroke-width="0.9"/>
<line x1="355.65" y1="66.53" x2="361.65" y2="66.53" stroke="#3e3e3e" stroke-width="1"/>
<line x1="356.1" y1="66.13" x2="356.1" y2="161.58" stroke="#3e3e3e" stroke-width="1.05"/>
<line x1="361.2" y1="66.13" x2="361.2" y2="137.08" stroke="#3e3e3e" stroke-width="1.05"/>
<line x1="361.2" y1="137.08" x2="361.2" y2="164.1" stroke="#585858" stroke-width="0.9"/>
<line x1="360.75" y1="137.08" x2="366.75" y2="137.08" stroke="#3e3e3e" stroke-width="1"/>
<line x1="366.3" y1="136.68" x2="366.3" y2="164.1" stroke="#3e3e3e" stroke-width="1.05"/>
<line x1="370.95" y1="152.09" x2="376.95" y2="152.09" stroke="#3e3e3e" stroke-width="1"/>
<line x1="371.4" y1="151.69" x2="371.4" y2="164.1" stroke="#3e3e3e" stroke-width="1.05"/>
<line x1="376.5" y1="152.09" x2="376.5" y2="164.1" stroke="#585858" stroke-width="0.9"/>
<line x1="376.05" y1="139.08" x2="382.05" y2="139.08" stroke="#3e3e3e" stroke-width="1"/>
<line x1="376.5" y1="138.68" x2="376.5" y2="152.09" stroke="#3e3e3e" stroke-width="1.05"/>
<line x1="381.6" y1="139.08" x2="381.6" y2="164.1" stroke="#585858" stroke-width="0.9"/>
<line x1="381.15" y1="53.51" x2="387.15" y2="53.51" stroke="#3e3e3e" stroke-width="1"/>
<line x1="381.6" y1="53.11" x2="381.6" y2="139.08" stroke="#3e3e3e" stroke-width="1.05"/>
<line x1="386.7" y1="53.11" x2="386.7" y2="91.04" stroke="#3e3e3e" stroke-width="1.05"/>
<line x1="386.7" y1="91.04" x2="386.7" y2="164.1" stroke="#585858" stroke-width="0.9"/>
<line x1="386.25" y1="91.04" x2="392.25" y2="91.04" stroke="#3e3e3e" stroke-width="1"/>
<line x1="391.8" y1="91.04" x2="391.8" y2="164.1" stroke="#585858" stroke-width="0.9"/>
<line x1="391.35" y1="32.6" x2="396.25" y2="32.6" stroke="#3e3e3e" stroke-width="1"/>
<line x1="391.8" y1="32.2" x2="391.8" y2="91.04" stroke="#3e3e3e" stroke-width="1.05"/>
<line x1="395.8" y1="32.2" x2="395.8" y2="164.1" stroke="#3e3e3e" stroke-width="1.05"/>
<rect x="472.8" y="163.2" width="5.1" height="0.9" fill="#4a4a4a"/>
<rect x="488.1" y="163.2" width="5.1" height="0.9" fill="#4a4a4a"/>
<line x1="293.5" y1="164.1" x2="395.9" y2="164.1" stroke="#222" stroke-width="1.15"/>
<line x1="395.9" y1="164.65" x2="519.1" y2="164.65" stroke="#222" stroke-width="1.0"/>
<line x1="294" y1="37.5" x2="294" y2="164.6" stroke="#4a4a4a" stroke-width="0.85"/>
<line x1="291.6" y1="164.1" x2="294" y2="164.1" stroke="#2a2a2a" stroke-width="0.9"/>
<text transform="translate(290.7 165.7) scale(0.93 1)" font-size="8.1" text-anchor="end" class="tk">0</text>
<line x1="291.6" y1="146.09" x2="294" y2="146.09" stroke="#2a2a2a" stroke-width="0.9"/>
<text transform="translate(290.7 147.69) scale(0.93 1)" font-size="8.1" text-anchor="end" class="tk">2000</text>
<line x1="291.6" y1="128.07" x2="294" y2="128.07" stroke="#2a2a2a" stroke-width="0.9"/>
<text transform="translate(290.7 129.67) scale(0.93 1)" font-size="8.1" text-anchor="end" class="tk">4000</text>
<line x1="291.6" y1="110.06" x2="294" y2="110.06" stroke="#2a2a2a" stroke-width="0.9"/>
<text transform="translate(290.7 111.66) scale(0.93 1)" font-size="8.1" text-anchor="end" class="tk">6000</text>
<line x1="291.6" y1="92.04" x2="294" y2="92.04" stroke="#2a2a2a" stroke-width="0.9"/>
<text transform="translate(290.7 93.64) scale(0.93 1)" font-size="8.1" text-anchor="end" class="tk">8000</text>
<line x1="291.6" y1="74.03" x2="294" y2="74.03" stroke="#2a2a2a" stroke-width="0.9"/>
<text transform="translate(290.7 75.63) scale(0.93 1)" font-size="8.1" text-anchor="end" class="tk">10000</text>
<line x1="291.6" y1="56.01" x2="294" y2="56.01" stroke="#2a2a2a" stroke-width="0.9"/>
<text transform="translate(290.7 57.61) scale(0.93 1)" font-size="8.1" text-anchor="end" class="tk">12000</text>
<line x1="291.6" y1="38" x2="294" y2="38" stroke="#2a2a2a" stroke-width="0.9"/>
<text transform="translate(290.7 39.6) scale(0.93 1)" font-size="8.1" text-anchor="end" class="tk">14000</text>
<text transform="translate(299.6 27.4) scale(0.985 1)" font-size="11.5" class="tt">HOXA9</text>
<rect x="314.9" y="319.2" width="5.1" height="0.9" fill="#4a4a4a"/>
<rect x="345.5" y="318.85" width="5.1" height="1.25" fill="#4a4a4a"/>
<line x1="294.05" y1="288.77" x2="300.05" y2="288.77" stroke="#3e3e3e" stroke-width="1"/>
<line x1="294.5" y1="288.37" x2="294.5" y2="320.1" stroke="#3e3e3e" stroke-width="1.05"/>
<line x1="299.6" y1="288.37" x2="299.6" y2="289.27" stroke="#3e3e3e" stroke-width="1.05"/>
<line x1="299.6" y1="289.27" x2="299.6" y2="320.1" stroke="#585858" stroke-width="0.9"/>
<line x1="299.15" y1="289.27" x2="305.15" y2="289.27" stroke="#3e3e3e" stroke-width="1"/>
<line x1="304.7" y1="289.27" x2="304.7" y2="320.1" stroke="#585858" stroke-width="0.9"/>
<line x1="304.25" y1="276.76" x2="310.25" y2="276.76" stroke="#3e3e3e" stroke-width="1"/>
<line x1="304.7" y1="276.36" x2="304.7" y2="289.27" stroke="#3e3e3e" stroke-width="1.05"/>
<line x1="309.8" y1="276.36" x2="309.8" y2="306.32" stroke="#3e3e3e" stroke-width="1.05"/>
<line x1="309.8" y1="306.32" x2="309.8" y2="320.1" stroke="#585858" stroke-width="0.9"/>
<line x1="309.35" y1="306.32" x2="315.35" y2="306.32" stroke="#3e3e3e" stroke-width="1"/>
<line x1="314.9" y1="305.92" x2="314.9" y2="320.1" stroke="#3e3e3e" stroke-width="1.05"/>
<line x1="319.55" y1="261.71" x2="325.55" y2="261.71" stroke="#3e3e3e" stroke-width="1"/>
<line x1="320" y1="261.31" x2="320" y2="320.1" stroke="#3e3e3e" stroke-width="1.05"/>
<line x1="325.1" y1="261.31" x2="325.1" y2="300.56" stroke="#3e3e3e" stroke-width="1.05"/>
<line x1="325.1" y1="300.56" x2="325.1" y2="320.1" stroke="#585858" stroke-width="0.9"/>
<line x1="324.65" y1="300.56" x2="330.65" y2="300.56" stroke="#3e3e3e" stroke-width="1"/>
<line x1="330.2" y1="300.56" x2="330.2" y2="320.1" stroke="#585858" stroke-width="0.9"/>
<line x1="329.75" y1="295.55" x2="335.75" y2="295.55" stroke="#3e3e3e" stroke-width="1"/>
<line x1="330.2" y1="295.15" x2="330.2" y2="300.56" stroke="#3e3e3e" stroke-width="1.05"/>
<line x1="335.3" y1="295.55" x2="335.3" y2="320.1" stroke="#585858" stroke-width="0.9"/>
<line x1="334.85" y1="295.55" x2="340.85" y2="295.55" stroke="#3e3e3e" stroke-width="1"/>
<line x1="340.4" y1="295.55" x2="340.4" y2="320.1" stroke="#585858" stroke-width="0.9"/>
<line x1="339.95" y1="283.76" x2="345.95" y2="283.76" stroke="#3e3e3e" stroke-width="1"/>
<line x1="340.4" y1="283.37" x2="340.4" y2="295.55" stroke="#3e3e3e" stroke-width="1.05"/>
<line x1="345.5" y1="283.37" x2="345.5" y2="320.1" stroke="#3e3e3e" stroke-width="1.05"/>
<line x1="350.15" y1="315.09" x2="356.15" y2="315.09" stroke="#3e3e3e" stroke-width="1"/>
<line x1="350.6" y1="314.69" x2="350.6" y2="320.1" stroke="#3e3e3e" stroke-width="1.05"/>
<line x1="355.7" y1="315.09" x2="355.7" y2="320.1" stroke="#585858" stroke-width="0.9"/>
<line x1="355.25" y1="210.84" x2="361.25" y2="210.84" stroke="#3e3e3e" stroke-width="1"/>
<line x1="355.7" y1="210.44" x2="355.7" y2="315.09" stroke="#3e3e3e" stroke-width="1.05"/>
<line x1="360.8" y1="210.44" x2="360.8" y2="308.83" stroke="#3e3e3e" stroke-width="1.05"/>
<line x1="360.8" y1="308.83" x2="360.8" y2="320.1" stroke="#585858" stroke-width="0.9"/>
<line x1="360.35" y1="308.83" x2="366.35" y2="308.83" stroke="#3e3e3e" stroke-width="1"/>
<line x1="365.9" y1="308.43" x2="365.9" y2="315.59" stroke="#3e3e3e" stroke-width="1.05"/>
<line x1="365.9" y1="315.59" x2="365.9" y2="320.1" stroke="#585858" stroke-width="0.9"/>
<line x1="365.45" y1="315.59" x2="371.45" y2="315.59" stroke="#3e3e3e" stroke-width="1"/>
<line x1="371" y1="315.59" x2="371" y2="320.1" stroke="#585858" stroke-width="0.9"/>
<line x1="370.55" y1="295.55" x2="376.55" y2="295.55" stroke="#3e3e3e" stroke-width="1"/>
<line x1="371" y1="295.15" x2="371" y2="315.59" stroke="#3e3e3e" stroke-width="1.05"/>
<line x1="376.1" y1="295.55" x2="376.1" y2="320.1" stroke="#585858" stroke-width="0.9"/>
<line x1="375.65" y1="279.77" x2="381.65" y2="279.77" stroke="#3e3e3e" stroke-width="1"/>
<line x1="376.1" y1="279.37" x2="376.1" y2="295.55" stroke="#3e3e3e" stroke-width="1.05"/>
<line x1="381.2" y1="279.77" x2="381.2" y2="320.1" stroke="#585858" stroke-width="0.9"/>
<line x1="380.75" y1="205.83" x2="386.75" y2="205.83" stroke="#3e3e3e" stroke-width="1"/>
<line x1="381.2" y1="205.43" x2="381.2" y2="279.77" stroke="#3e3e3e" stroke-width="1.05"/>
<line x1="386.3" y1="205.43" x2="386.3" y2="264.72" stroke="#3e3e3e" stroke-width="1.05"/>
<line x1="386.3" y1="264.72" x2="386.3" y2="320.1" stroke="#585858" stroke-width="0.9"/>
<line x1="385.85" y1="264.72" x2="391.85" y2="264.72" stroke="#3e3e3e" stroke-width="1"/>
<line x1="391.4" y1="264.72" x2="391.4" y2="320.1" stroke="#585858" stroke-width="0.9"/>
<line x1="390.95" y1="230.44" x2="396.45" y2="230.44" stroke="#3e3e3e" stroke-width="1"/>
<line x1="391.4" y1="230.04" x2="391.4" y2="264.72" stroke="#3e3e3e" stroke-width="1.05"/>
<line x1="396" y1="230.04" x2="396" y2="320.1" stroke="#3e3e3e" stroke-width="1.05"/>
<rect x="396.5" y="319.2" width="5.1" height="0.9" fill="#4a4a4a"/>
<rect x="401.6" y="318.81" width="5.1" height="1.29" fill="#4a4a4a"/>
<rect x="427.1" y="319.2" width="5.1" height="0.9" fill="#4a4a4a"/>
<rect x="452.6" y="318.81" width="5.1" height="1.29" fill="#4a4a4a"/>
<rect x="473" y="319.2" width="5.1" height="0.9" fill="#4a4a4a"/>
<rect x="513.8" y="319.09" width="5.1" height="1.01" fill="#4a4a4a"/>
<line x1="406.25" y1="317.61" x2="412.25" y2="317.61" stroke="#3e3e3e" stroke-width="1"/>
<line x1="406.7" y1="317.21" x2="406.7" y2="320.1" stroke="#3e3e3e" stroke-width="1.05"/>
<line x1="411.8" y1="317.21" x2="411.8" y2="320.1" stroke="#3e3e3e" stroke-width="1.05"/>
<line x1="416.45" y1="316.34" x2="422.45" y2="316.34" stroke="#3e3e3e" stroke-width="1"/>
<line x1="416.9" y1="315.94" x2="416.9" y2="320.1" stroke="#3e3e3e" stroke-width="1.05"/>
<line x1="422" y1="316.34" x2="422" y2="320.1" stroke="#585858" stroke-width="0.9"/>
<line x1="421.55" y1="316.34" x2="427.55" y2="316.34" stroke="#3e3e3e" stroke-width="1"/>
<line x1="427.1" y1="315.94" x2="427.1" y2="320.1" stroke="#3e3e3e" stroke-width="1.05"/>
<line x1="431.75" y1="317.09" x2="437.75" y2="317.09" stroke="#3e3e3e" stroke-width="1"/>
<line x1="432.2" y1="316.69" x2="432.2" y2="320.1" stroke="#3e3e3e" stroke-width="1.05"/>
<line x1="437.3" y1="316.69" x2="437.3" y2="317.61" stroke="#3e3e3e" stroke-width="1.05"/>
<line x1="437.3" y1="317.61" x2="437.3" y2="320.1" stroke="#585858" stroke-width="0.9"/>
<line x1="436.85" y1="317.61" x2="442.85" y2="317.61" stroke="#3e3e3e" stroke-width="1"/>
<line x1="442.4" y1="317.61" x2="442.4" y2="320.1" stroke="#585858" stroke-width="0.9"/>
<line x1="441.95" y1="316.34" x2="447.95" y2="316.34" stroke="#3e3e3e" stroke-width="1"/>
<line x1="442.4" y1="315.94" x2="442.4" y2="317.61" stroke="#3e3e3e" stroke-width="1.05"/>
<line x1="447.5" y1="316.34" x2="447.5" y2="320.1" stroke="#585858" stroke-width="0.9"/>
<line x1="447.05" y1="316.34" x2="453.05" y2="316.34" stroke="#3e3e3e" stroke-width="1"/>
<line x1="452.6" y1="315.94" x2="452.6" y2="320.1" stroke="#3e3e3e" stroke-width="1.05"/>
<line x1="457.25" y1="317.09" x2="463.25" y2="317.09" stroke="#3e3e3e" stroke-width="1"/>
<line x1="457.7" y1="316.69" x2="457.7" y2="320.1" stroke="#3e3e3e" stroke-width="1.05"/>
<line x1="462.8" y1="317.09" x2="462.8" y2="320.1" stroke="#585858" stroke-width="0.9"/>
<line x1="462.35" y1="317.09" x2="468.35" y2="317.09" stroke="#3e3e3e" stroke-width="1"/>
<line x1="467.9" y1="316.69" x2="467.9" y2="320.1" stroke="#3e3e3e" stroke-width="1.05"/>
<line x1="477.65" y1="318.1" x2="483.65" y2="318.1" stroke="#3e3e3e" stroke-width="1"/>
<line x1="478.1" y1="317.7" x2="478.1" y2="320.1" stroke="#3e3e3e" stroke-width="1.05"/>
<line x1="483.2" y1="317.7" x2="483.2" y2="320.1" stroke="#3e3e3e" stroke-width="1.05"/>
<line x1="487.85" y1="316.1" x2="493.85" y2="316.1" stroke="#3e3e3e" stroke-width="1"/>
<line x1="488.3" y1="315.7" x2="488.3" y2="320.1" stroke="#3e3e3e" stroke-width="1.05"/>
<line x1="493.4" y1="315.7" x2="493.4" y2="317.61" stroke="#3e3e3e" stroke-width="1.05"/>
<line x1="493.4" y1="317.61" x2="493.4" y2="320.1" stroke="#585858" stroke-width="0.9"/>
<line x1="492.95" y1="317.61" x2="498.95" y2="317.61" stroke="#3e3e3e" stroke-width="1"/>
<line x1="498.5" y1="317.21" x2="498.5" y2="318.1" stroke="#3e3e3e" stroke-width="1.05"/>
<line x1="498.5" y1="318.1" x2="498.5" y2="320.1" stroke="#585858" stroke-width="0.9"/>
<line x1="498.05" y1="318.1" x2="504.05" y2="318.1" stroke="#3e3e3e" stroke-width="1"/>
<line x1="503.6" y1="318.1" x2="503.6" y2="320.1" stroke="#585858" stroke-width="0.9"/>
<line x1="503.15" y1="315.59" x2="509.15" y2="315.59" stroke="#3e3e3e" stroke-width="1"/>
<line x1="503.6" y1="315.19" x2="503.6" y2="318.1" stroke="#3e3e3e" stroke-width="1.05"/>
<line x1="508.7" y1="315.19" x2="508.7" y2="317.61" stroke="#3e3e3e" stroke-width="1.05"/>
<line x1="508.7" y1="317.61" x2="508.7" y2="320.1" stroke="#585858" stroke-width="0.9"/>
<line x1="508.25" y1="317.61" x2="514.25" y2="317.61" stroke="#3e3e3e" stroke-width="1"/>
<line x1="513.8" y1="317.21" x2="513.8" y2="320.1" stroke="#3e3e3e" stroke-width="1.05"/>
<line x1="293.4" y1="320.1" x2="396.1" y2="320.1" stroke="#222" stroke-width="1.15"/>
<line x1="396.1" y1="320.1" x2="519.3" y2="320.1" stroke="#222" stroke-width="1.15"/>
<line x1="293.9" y1="190.6" x2="293.9" y2="320.6" stroke="#4a4a4a" stroke-width="0.85"/>
<line x1="291.5" y1="320.1" x2="293.9" y2="320.1" stroke="#2a2a2a" stroke-width="0.9"/>
<text transform="translate(290.6 321.7) scale(0.93 1)" font-size="8.1" text-anchor="end" class="tk">0</text>
<line x1="291.5" y1="298.6" x2="293.9" y2="298.6" stroke="#2a2a2a" stroke-width="0.9"/>
<text transform="translate(290.6 300.2) scale(0.93 1)" font-size="8.1" text-anchor="end" class="tk">1000</text>
<line x1="291.5" y1="277.1" x2="293.9" y2="277.1" stroke="#2a2a2a" stroke-width="0.9"/>
<text transform="translate(290.6 278.7) scale(0.93 1)" font-size="8.1" text-anchor="end" class="tk">2000</text>
<line x1="291.5" y1="255.6" x2="293.9" y2="255.6" stroke="#2a2a2a" stroke-width="0.9"/>
<text transform="translate(290.6 257.2) scale(0.93 1)" font-size="8.1" text-anchor="end" class="tk">3000</text>
<line x1="291.5" y1="234.1" x2="293.9" y2="234.1" stroke="#2a2a2a" stroke-width="0.9"/>
<text transform="translate(290.6 235.7) scale(0.93 1)" font-size="8.1" text-anchor="end" class="tk">4000</text>
<line x1="291.5" y1="212.6" x2="293.9" y2="212.6" stroke="#2a2a2a" stroke-width="0.9"/>
<text transform="translate(290.6 214.2) scale(0.93 1)" font-size="8.1" text-anchor="end" class="tk">5000</text>
<line x1="291.5" y1="191.1" x2="293.9" y2="191.1" stroke="#2a2a2a" stroke-width="0.9"/>
<text transform="translate(290.6 192.7) scale(0.93 1)" font-size="8.1" text-anchor="end" class="tk">6000</text>
<text transform="translate(300 182) scale(0.985 1)" font-size="11.5" class="tt">HOXA10</text>
<line x1="294.45" y1="450.96" x2="300.45" y2="450.96" stroke="#3e3e3e" stroke-width="1"/>
<line x1="294.9" y1="450.56" x2="294.9" y2="476.1" stroke="#3e3e3e" stroke-width="1.05"/>
<line x1="300" y1="450.56" x2="300" y2="461.5" stroke="#3e3e3e" stroke-width="1.05"/>
<line x1="300" y1="461.5" x2="300" y2="476.1" stroke="#585858" stroke-width="0.9"/>
<line x1="299.55" y1="461.5" x2="305.55" y2="461.5" stroke="#3e3e3e" stroke-width="1"/>
<line x1="305.1" y1="461.5" x2="305.1" y2="476.1" stroke="#585858" stroke-width="0.9"/>
<line x1="304.65" y1="454.1" x2="310.65" y2="454.1" stroke="#3e3e3e" stroke-width="1"/>
<line x1="305.1" y1="453.7" x2="305.1" y2="461.5" stroke="#3e3e3e" stroke-width="1.05"/>
<line x1="310.2" y1="454.1" x2="310.2" y2="476.1" stroke="#585858" stroke-width="0.9"/>
<line x1="309.75" y1="423.42" x2="315.75" y2="423.42" stroke="#3e3e3e" stroke-width="1"/>
<line x1="310.2" y1="423.02" x2="310.2" y2="454.1" stroke="#3e3e3e" stroke-width="1.05"/>
<line x1="315.3" y1="423.42" x2="315.3" y2="476.1" stroke="#585858" stroke-width="0.9"/>
<line x1="314.85" y1="398.28" x2="320.85" y2="398.28" stroke="#3e3e3e" stroke-width="1"/>
<line x1="315.3" y1="397.88" x2="315.3" y2="423.42" stroke="#3e3e3e" stroke-width="1.05"/>
<line x1="320.4" y1="397.88" x2="320.4" y2="419.72" stroke="#3e3e3e" stroke-width="1.05"/>
<line x1="320.4" y1="419.72" x2="320.4" y2="476.1" stroke="#585858" stroke-width="0.9"/>
<line x1="319.95" y1="419.72" x2="325.95" y2="419.72" stroke="#3e3e3e" stroke-width="1"/>
<line x1="325.5" y1="419.32" x2="325.5" y2="476.1" stroke="#3e3e3e" stroke-width="1.05"/>
<line x1="330.15" y1="470.92" x2="336.15" y2="470.92" stroke="#3e3e3e" stroke-width="1"/>
<line x1="330.6" y1="470.52" x2="330.6" y2="476.1" stroke="#3e3e3e" stroke-width="1.05"/>
<line x1="335.7" y1="470.52" x2="335.7" y2="476.1" stroke="#3e3e3e" stroke-width="1.05"/>
<line x1="340.35" y1="447.82" x2="346.35" y2="447.82" stroke="#3e3e3e" stroke-width="1"/>
<line x1="340.8" y1="447.42" x2="340.8" y2="476.1" stroke="#3e3e3e" stroke-width="1.05"/>
<line x1="345.9" y1="447.82" x2="345.9" y2="476.1" stroke="#585858" stroke-width="0.9"/>
<line x1="345.45" y1="436.91" x2="351.45" y2="436.91" stroke="#3e3e3e" stroke-width="1"/>
<line x1="345.9" y1="436.51" x2="345.9" y2="447.82" stroke="#3e3e3e" stroke-width="1.05"/>
<line x1="351" y1="436.51" x2="351" y2="460.39" stroke="#3e3e3e" stroke-width="1.05"/>
<line x1="351" y1="460.39" x2="351" y2="476.1" stroke="#585858" stroke-width="0.9"/>
<line x1="350.55" y1="460.39" x2="356.55" y2="460.39" stroke="#3e3e3e" stroke-width="1"/>
<line x1="356.1" y1="460.39" x2="356.1" y2="476.1" stroke="#585858" stroke-width="0.9"/>
<line x1="355.65" y1="448.56" x2="361.65" y2="448.56" stroke="#3e3e3e" stroke-width="1"/>
<line x1="356.1" y1="448.16" x2="356.1" y2="460.39" stroke="#3e3e3e" stroke-width="1.05"/>
<line x1="361.2" y1="448.56" x2="361.2" y2="476.1" stroke="#585858" stroke-width="0.9"/>
<line x1="360.75" y1="447.08" x2="366.75" y2="447.08" stroke="#3e3e3e" stroke-width="1"/>
<line x1="361.2" y1="446.68" x2="361.2" y2="448.56" stroke="#3e3e3e" stroke-width="1.05"/>
<line x1="366.3" y1="447.08" x2="366.3" y2="476.1" stroke="#585858" stroke-width="0.9"/>
<line x1="365.85" y1="399.57" x2="371.85" y2="399.57" stroke="#3e3e3e" stroke-width="1"/>
<line x1="366.3" y1="399.17" x2="366.3" y2="447.08" stroke="#3e3e3e" stroke-width="1.05"/>
<line x1="371.4" y1="399.57" x2="371.4" y2="476.1" stroke="#585858" stroke-width="0.9"/>
<line x1="370.95" y1="351.69" x2="376.95" y2="351.69" stroke="#3e3e3e" stroke-width="1"/>
<line x1="371.4" y1="351.29" x2="371.4" y2="399.57" stroke="#3e3e3e" stroke-width="1.05"/>
<line x1="376.5" y1="351.29" x2="376.5" y2="410.66" stroke="#3e3e3e" stroke-width="1.05"/>
<line x1="376.5" y1="410.66" x2="376.5" y2="476.1" stroke="#585858" stroke-width="0.9"/>
<line x1="376.05" y1="410.66" x2="382.05" y2="410.66" stroke="#3e3e3e" stroke-width="1"/>
<line x1="381.6" y1="410.26" x2="381.6" y2="461.13" stroke="#3e3e3e" stroke-width="1.05"/>
<line x1="381.6" y1="461.13" x2="381.6" y2="476.1" stroke="#585858" stroke-width="0.9"/>
<line x1="381.15" y1="461.13" x2="387.15" y2="461.13" stroke="#3e3e3e" stroke-width="1"/>
<line x1="386.7" y1="461.13" x2="386.7" y2="476.1" stroke="#585858" stroke-width="0.9"/>
<line x1="386.25" y1="451.51" x2="392.25" y2="451.51" stroke="#3e3e3e" stroke-width="1"/>
<line x1="386.7" y1="451.11" x2="386.7" y2="461.13" stroke="#3e3e3e" stroke-width="1.05"/>
<line x1="391.8" y1="451.11" x2="391.8" y2="460.39" stroke="#3e3e3e" stroke-width="1.05"/>
<line x1="391.8" y1="460.39" x2="391.8" y2="476.1" stroke="#585858" stroke-width="0.9"/>
<line x1="391.35" y1="460.39" x2="396.65" y2="460.39" stroke="#3e3e3e" stroke-width="1"/>
<line x1="396.2" y1="459.99" x2="396.2" y2="476.1" stroke="#3e3e3e" stroke-width="1.05"/>
<line x1="396.25" y1="465.38" x2="402.25" y2="465.38" stroke="#3e3e3e" stroke-width="1"/>
<line x1="396.7" y1="464.98" x2="396.7" y2="476.1" stroke="#3e3e3e" stroke-width="1.05"/>
<line x1="401.8" y1="464.98" x2="401.8" y2="472.03" stroke="#3e3e3e" stroke-width="1.05"/>
<line x1="401.8" y1="472.03" x2="401.8" y2="476.1" stroke="#585858" stroke-width="0.9"/>
<line x1="401.35" y1="472.03" x2="407.35" y2="472.03" stroke="#3e3e3e" stroke-width="1"/>
<line x1="406.9" y1="471.63" x2="406.9" y2="476.1" stroke="#3e3e3e" stroke-width="1.05"/>
<line x1="416.65" y1="462.79" x2="422.65" y2="462.79" stroke="#3e3e3e" stroke-width="1"/>
<line x1="417.1" y1="462.39" x2="417.1" y2="476.1" stroke="#3e3e3e" stroke-width="1.05"/>
<line x1="422.2" y1="462.39" x2="422.2" y2="476.1" stroke="#3e3e3e" stroke-width="1.05"/>
<line x1="426.85" y1="454.1" x2="432.85" y2="454.1" stroke="#3e3e3e" stroke-width="1"/>
<line x1="427.3" y1="453.7" x2="427.3" y2="476.1" stroke="#3e3e3e" stroke-width="1.05"/>
<line x1="432.4" y1="454.1" x2="432.4" y2="476.1" stroke="#585858" stroke-width="0.9"/>
<line x1="431.95" y1="439.5" x2="437.95" y2="439.5" stroke="#3e3e3e" stroke-width="1"/>
<line x1="432.4" y1="439.1" x2="432.4" y2="454.1" stroke="#3e3e3e" stroke-width="1.05"/>
<line x1="437.5" y1="439.1" x2="437.5" y2="476.1" stroke="#3e3e3e" stroke-width="1.05"/>
<line x1="442.15" y1="437.65" x2="448.15" y2="437.65" stroke="#3e3e3e" stroke-width="1"/>
<line x1="442.6" y1="437.25" x2="442.6" y2="476.1" stroke="#3e3e3e" stroke-width="1.05"/>
<line x1="447.7" y1="437.25" x2="447.7" y2="459.09" stroke="#3e3e3e" stroke-width="1.05"/>
<line x1="447.7" y1="459.09" x2="447.7" y2="476.1" stroke="#585858" stroke-width="0.9"/>
<line x1="447.25" y1="459.09" x2="453.25" y2="459.09" stroke="#3e3e3e" stroke-width="1"/>
<line x1="452.8" y1="459.09" x2="452.8" y2="476.1" stroke="#585858" stroke-width="0.9"/>
<line x1="452.35" y1="440.24" x2="458.35" y2="440.24" stroke="#3e3e3e" stroke-width="1"/>
<line x1="452.8" y1="439.84" x2="452.8" y2="459.09" stroke="#3e3e3e" stroke-width="1.05"/>
<line x1="457.9" y1="439.84" x2="457.9" y2="465.75" stroke="#3e3e3e" stroke-width="1.05"/>
<line x1="457.9" y1="465.75" x2="457.9" y2="476.1" stroke="#585858" stroke-width="0.9"/>
<line x1="457.45" y1="465.75" x2="463.45" y2="465.75" stroke="#3e3e3e" stroke-width="1"/>
<line x1="463" y1="465.75" x2="463" y2="476.1" stroke="#585858" stroke-width="0.9"/>
<line x1="462.55" y1="441.53" x2="468.55" y2="441.53" stroke="#3e3e3e" stroke-width="1"/>
<line x1="463" y1="441.13" x2="463" y2="465.75" stroke="#3e3e3e" stroke-width="1.05"/>
<line x1="468.1" y1="441.13" x2="468.1" y2="476.1" stroke="#3e3e3e" stroke-width="1.05"/>
<line x1="472.75" y1="434.69" x2="478.75" y2="434.69" stroke="#3e3e3e" stroke-width="1"/>
<line x1="473.2" y1="434.29" x2="473.2" y2="476.1" stroke="#3e3e3e" stroke-width="1.05"/>
<line x1="478.3" y1="434.29" x2="478.3" y2="474.62" stroke="#3e3e3e" stroke-width="1.05"/>
<line x1="478.3" y1="474.62" x2="478.3" y2="476.1" stroke="#585858" stroke-width="0.9"/>
<line x1="477.85" y1="474.62" x2="483.85" y2="474.62" stroke="#3e3e3e" stroke-width="1"/>
<line x1="483.4" y1="474.62" x2="483.4" y2="476.1" stroke="#585858" stroke-width="0.9"/>
<line x1="482.95" y1="467.78" x2="488.95" y2="467.78" stroke="#3e3e3e" stroke-width="1"/>
<line x1="483.4" y1="467.38" x2="483.4" y2="474.62" stroke="#3e3e3e" stroke-width="1.05"/>
<line x1="488.5" y1="467.78" x2="488.5" y2="476.1" stroke="#585858" stroke-width="0.9"/>
<line x1="488.05" y1="461.5" x2="494.05" y2="461.5" stroke="#3e3e3e" stroke-width="1"/>
<line x1="488.5" y1="461.1" x2="488.5" y2="467.78" stroke="#3e3e3e" stroke-width="1.05"/>
<line x1="493.6" y1="461.1" x2="493.6" y2="465.38" stroke="#3e3e3e" stroke-width="1.05"/>
<line x1="493.6" y1="465.38" x2="493.6" y2="476.1" stroke="#585858" stroke-width="0.9"/>
<line x1="493.15" y1="465.38" x2="499.15" y2="465.38" stroke="#3e3e3e" stroke-width="1"/>
<line x1="498.7" y1="465.38" x2="498.7" y2="476.1" stroke="#585858" stroke-width="0.9"/>
<line x1="498.25" y1="456.51" x2="504.25" y2="456.51" stroke="#3e3e3e" stroke-width="1"/>
<line x1="498.7" y1="456.11" x2="498.7" y2="465.38" stroke="#3e3e3e" stroke-width="1.05"/>
<line x1="503.8" y1="456.11" x2="503.8" y2="464.64" stroke="#3e3e3e" stroke-width="1.05"/>
<line x1="503.8" y1="464.64" x2="503.8" y2="476.1" stroke="#585858" stroke-width="0.9"/>
<line x1="503.35" y1="464.64" x2="509.35" y2="464.64" stroke="#3e3e3e" stroke-width="1"/>
<line x1="508.9" y1="464.64" x2="508.9" y2="476.1" stroke="#585858" stroke-width="0.9"/>
<line x1="508.45" y1="433.4" x2="514.45" y2="433.4" stroke="#3e3e3e" stroke-width="1"/>
<line x1="508.9" y1="433" x2="508.9" y2="464.64" stroke="#3e3e3e" stroke-width="1.05"/>
<line x1="514" y1="433" x2="514" y2="458.35" stroke="#3e3e3e" stroke-width="1.05"/>
<line x1="514" y1="458.35" x2="514" y2="476.1" stroke="#585858" stroke-width="0.9"/>
<line x1="513.55" y1="458.35" x2="519.55" y2="458.35" stroke="#3e3e3e" stroke-width="1"/>
<line x1="519.1" y1="457.95" x2="519.1" y2="476.1" stroke="#3e3e3e" stroke-width="1.05"/>
<line x1="293.9" y1="476.1" x2="396.3" y2="476.1" stroke="#222" stroke-width="1.15"/>
<line x1="396.3" y1="476.1" x2="519.5" y2="476.1" stroke="#222" stroke-width="1.15"/>
<line x1="294.4" y1="346.2" x2="294.4" y2="476.6" stroke="#4a4a4a" stroke-width="0.85"/>
<line x1="292" y1="476.1" x2="294.4" y2="476.1" stroke="#2a2a2a" stroke-width="0.9"/>
<text transform="translate(291.1 477.85) scale(0.93 1)" font-size="8.1" text-anchor="end" class="tk">0</text>
<line x1="292" y1="457.61" x2="294.4" y2="457.61" stroke="#2a2a2a" stroke-width="0.9"/>
<text transform="translate(291.1 459.34) scale(0.93 1)" font-size="8.1" text-anchor="end" class="tk">100</text>
<line x1="292" y1="439.13" x2="294.4" y2="439.13" stroke="#2a2a2a" stroke-width="0.9"/>
<text transform="translate(291.1 440.82) scale(0.93 1)" font-size="8.1" text-anchor="end" class="tk">200</text>
<line x1="292" y1="420.64" x2="294.4" y2="420.64" stroke="#2a2a2a" stroke-width="0.9"/>
<text transform="translate(291.1 422.31) scale(0.93 1)" font-size="8.1" text-anchor="end" class="tk">300</text>
<line x1="292" y1="402.16" x2="294.4" y2="402.16" stroke="#2a2a2a" stroke-width="0.9"/>
<text transform="translate(291.1 403.79) scale(0.93 1)" font-size="8.1" text-anchor="end" class="tk">400</text>
<line x1="292" y1="383.67" x2="294.4" y2="383.67" stroke="#2a2a2a" stroke-width="0.9"/>
<text transform="translate(291.1 385.28) scale(0.93 1)" font-size="8.1" text-anchor="end" class="tk">500</text>
<line x1="292" y1="365.19" x2="294.4" y2="365.19" stroke="#2a2a2a" stroke-width="0.9"/>
<text transform="translate(291.1 366.76) scale(0.93 1)" font-size="8.1" text-anchor="end" class="tk">600</text>
<line x1="292" y1="346.7" x2="294.4" y2="346.7" stroke="#2a2a2a" stroke-width="0.9"/>
<text transform="translate(291.1 348.25) scale(0.93 1)" font-size="8.1" text-anchor="end" class="tk">700</text>
<text transform="translate(299 337.5) scale(0.985 1)" font-size="11.5" class="tt">HOXC6</text>
<line x1="294.7" y1="592.07" x2="300.7" y2="592.07" stroke="#3e3e3e" stroke-width="1"/>
<line x1="295.15" y1="591.67" x2="295.15" y2="631.6" stroke="#3e3e3e" stroke-width="1.05"/>
<line x1="300.25" y1="592.07" x2="300.25" y2="631.6" stroke="#585858" stroke-width="0.9"/>
<line x1="299.8" y1="587.07" x2="305.8" y2="587.07" stroke="#3e3e3e" stroke-width="1"/>
<line x1="300.25" y1="586.67" x2="300.25" y2="592.07" stroke="#3e3e3e" stroke-width="1.05"/>
<line x1="305.35" y1="586.67" x2="305.35" y2="605.34" stroke="#3e3e3e" stroke-width="1.05"/>
<line x1="305.35" y1="605.34" x2="305.35" y2="631.6" stroke="#585858" stroke-width="0.9"/>
<line x1="304.9" y1="605.34" x2="310.9" y2="605.34" stroke="#3e3e3e" stroke-width="1"/>
<line x1="310.45" y1="604.94" x2="310.45" y2="611.59" stroke="#3e3e3e" stroke-width="1.05"/>
<line x1="310.45" y1="611.59" x2="310.45" y2="631.6" stroke="#585858" stroke-width="0.9"/>
<line x1="310" y1="611.59" x2="316" y2="611.59" stroke="#3e3e3e" stroke-width="1"/>
<line x1="315.55" y1="611.19" x2="315.55" y2="615.84" stroke="#3e3e3e" stroke-width="1.05"/>
<line x1="315.55" y1="615.84" x2="315.55" y2="631.6" stroke="#585858" stroke-width="0.9"/>
<line x1="315.1" y1="615.84" x2="321.1" y2="615.84" stroke="#3e3e3e" stroke-width="1"/>
<line x1="320.65" y1="615.84" x2="320.65" y2="631.6" stroke="#585858" stroke-width="0.9"/>
<line x1="320.2" y1="582.82" x2="326.2" y2="582.82" stroke="#3e3e3e" stroke-width="1"/>
<line x1="320.65" y1="582.42" x2="320.65" y2="615.84" stroke="#3e3e3e" stroke-width="1.05"/>
<line x1="325.75" y1="582.42" x2="325.75" y2="609.59" stroke="#3e3e3e" stroke-width="1.05"/>
<line x1="325.75" y1="609.59" x2="325.75" y2="631.6" stroke="#585858" stroke-width="0.9"/>
<line x1="325.3" y1="609.59" x2="331.3" y2="609.59" stroke="#3e3e3e" stroke-width="1"/>
<line x1="330.85" y1="609.59" x2="330.85" y2="631.6" stroke="#585858" stroke-width="0.9"/>
<line x1="330.4" y1="508.27" x2="336.4" y2="508.27" stroke="#3e3e3e" stroke-width="1"/>
<line x1="330.85" y1="507.87" x2="330.85" y2="609.59" stroke="#3e3e3e" stroke-width="1.05"/>
<line x1="335.95" y1="507.87" x2="335.95" y2="621.61" stroke="#3e3e3e" stroke-width="1.05"/>
<line x1="335.95" y1="621.61" x2="335.95" y2="631.6" stroke="#585858" stroke-width="0.9"/>
<line x1="335.5" y1="621.61" x2="341.5" y2="621.61" stroke="#3e3e3e" stroke-width="1"/>
<line x1="341.05" y1="621.61" x2="341.05" y2="631.6" stroke="#585858" stroke-width="0.9"/>
<line x1="340.6" y1="600.34" x2="346.6" y2="600.34" stroke="#3e3e3e" stroke-width="1"/>
<line x1="341.05" y1="599.94" x2="341.05" y2="621.61" stroke="#3e3e3e" stroke-width="1.05"/>
<line x1="346.15" y1="600.34" x2="346.15" y2="631.6" stroke="#585858" stroke-width="0.9"/>
<line x1="345.7" y1="592.84" x2="351.7" y2="592.84" stroke="#3e3e3e" stroke-width="1"/>
<line x1="346.15" y1="592.44" x2="346.15" y2="600.34" stroke="#3e3e3e" stroke-width="1.05"/>
<line x1="351.25" y1="592.44" x2="351.25" y2="612.85" stroke="#3e3e3e" stroke-width="1.05"/>
<line x1="351.25" y1="612.85" x2="351.25" y2="631.6" stroke="#585858" stroke-width="0.9"/>
<line x1="350.8" y1="612.85" x2="356.8" y2="612.85" stroke="#3e3e3e" stroke-width="1"/>
<line x1="356.35" y1="612.85" x2="356.35" y2="631.6" stroke="#585858" stroke-width="0.9"/>
<line x1="355.9" y1="580.82" x2="361.9" y2="580.82" stroke="#3e3e3e" stroke-width="1"/>
<line x1="356.35" y1="580.42" x2="356.35" y2="612.85" stroke="#3e3e3e" stroke-width="1.05"/>
<line x1="361.45" y1="580.42" x2="361.45" y2="623.35" stroke="#3e3e3e" stroke-width="1.05"/>
<line x1="361.45" y1="623.35" x2="361.45" y2="631.6" stroke="#585858" stroke-width="0.9"/>
<line x1="361" y1="623.35" x2="367" y2="623.35" stroke="#3e3e3e" stroke-width="1"/>
<line x1="366.55" y1="623.35" x2="366.55" y2="631.6" stroke="#585858" stroke-width="0.9"/>
<line x1="366.1" y1="603.57" x2="372.1" y2="603.57" stroke="#3e3e3e" stroke-width="1"/>
<line x1="366.55" y1="603.17" x2="366.55" y2="623.35" stroke="#3e3e3e" stroke-width="1.05"/>
<line x1="371.65" y1="603.57" x2="371.65" y2="631.6" stroke="#585858" stroke-width="0.9"/>
<line x1="371.2" y1="589.58" x2="377.2" y2="589.58" stroke="#3e3e3e" stroke-width="1"/>
<line x1="371.65" y1="589.18" x2="371.65" y2="603.57" stroke="#3e3e3e" stroke-width="1.05"/>
<line x1="376.75" y1="589.18" x2="376.75" y2="614.59" stroke="#3e3e3e" stroke-width="1.05"/>
<line x1="376.75" y1="614.59" x2="376.75" y2="631.6" stroke="#585858" stroke-width="0.9"/>
<line x1="376.3" y1="614.59" x2="382.3" y2="614.59" stroke="#3e3e3e" stroke-width="1"/>
<line x1="381.85" y1="614.59" x2="381.85" y2="631.6" stroke="#585858" stroke-width="0.9"/>
<line x1="381.4" y1="567.04" x2="387.4" y2="567.04" stroke="#3e3e3e" stroke-width="1"/>
<line x1="381.85" y1="566.64" x2="381.85" y2="614.59" stroke="#3e3e3e" stroke-width="1.05"/>
<line x1="386.95" y1="566.64" x2="386.95" y2="612.85" stroke="#3e3e3e" stroke-width="1.05"/>
<line x1="386.95" y1="612.85" x2="386.95" y2="631.6" stroke="#585858" stroke-width="0.9"/>
<line x1="386.5" y1="612.85" x2="392.5" y2="612.85" stroke="#3e3e3e" stroke-width="1"/>
<line x1="392.05" y1="612.85" x2="392.05" y2="631.6" stroke="#585858" stroke-width="0.9"/>
<line x1="391.6" y1="541.03" x2="396.85" y2="541.03" stroke="#3e3e3e" stroke-width="1"/>
<line x1="392.05" y1="540.63" x2="392.05" y2="612.85" stroke="#3e3e3e" stroke-width="1.05"/>
<line x1="396.4" y1="540.63" x2="396.4" y2="631.6" stroke="#3e3e3e" stroke-width="1.05"/>
<line x1="294.15" y1="631.6" x2="396.5" y2="631.6" stroke="#222" stroke-width="1.15"/>
<line x1="396.5" y1="631.8" x2="519.7" y2="631.8" stroke="#707070" stroke-width="1.3"/>
<line x1="294.65" y1="503" x2="294.65" y2="632.1" stroke="#4a4a4a" stroke-width="0.85"/>
<line x1="292.25" y1="631.6" x2="294.65" y2="631.6" stroke="#2a2a2a" stroke-width="0.9"/>
<text transform="translate(291.35 633.05) scale(0.93 1)" font-size="8.1" text-anchor="end" class="tk">0</text>
<line x1="292.25" y1="618.79" x2="294.65" y2="618.79" stroke="#2a2a2a" stroke-width="0.9"/>
<text transform="translate(291.35 620.24) scale(0.93 1)" font-size="8.1" text-anchor="end" class="tk">500</text>
<line x1="292.25" y1="605.98" x2="294.65" y2="605.98" stroke="#2a2a2a" stroke-width="0.9"/>
<text transform="translate(291.35 607.43) scale(0.93 1)" font-size="8.1" text-anchor="end" class="tk">1000</text>
<line x1="292.25" y1="593.17" x2="294.65" y2="593.17" stroke="#2a2a2a" stroke-width="0.9"/>
<text transform="translate(291.35 594.62) scale(0.93 1)" font-size="8.1" text-anchor="end" class="tk">1500</text>
<line x1="292.25" y1="580.36" x2="294.65" y2="580.36" stroke="#2a2a2a" stroke-width="0.9"/>
<text transform="translate(291.35 581.81) scale(0.93 1)" font-size="8.1" text-anchor="end" class="tk">2000</text>
<line x1="292.25" y1="567.55" x2="294.65" y2="567.55" stroke="#2a2a2a" stroke-width="0.9"/>
<text transform="translate(291.35 569) scale(0.93 1)" font-size="8.1" text-anchor="end" class="tk">2500</text>
<line x1="292.25" y1="554.74" x2="294.65" y2="554.74" stroke="#2a2a2a" stroke-width="0.9"/>
<text transform="translate(291.35 556.19) scale(0.93 1)" font-size="8.1" text-anchor="end" class="tk">3000</text>
<line x1="292.25" y1="541.93" x2="294.65" y2="541.93" stroke="#2a2a2a" stroke-width="0.9"/>
<text transform="translate(291.35 543.38) scale(0.93 1)" font-size="8.1" text-anchor="end" class="tk">3500</text>
<line x1="292.25" y1="529.12" x2="294.65" y2="529.12" stroke="#2a2a2a" stroke-width="0.9"/>
<text transform="translate(291.35 530.57) scale(0.93 1)" font-size="8.1" text-anchor="end" class="tk">4000</text>
<line x1="292.25" y1="516.31" x2="294.65" y2="516.31" stroke="#2a2a2a" stroke-width="0.9"/>
<text transform="translate(291.35 517.76) scale(0.93 1)" font-size="8.1" text-anchor="end" class="tk">4500</text>
<line x1="292.25" y1="503.5" x2="294.65" y2="503.5" stroke="#2a2a2a" stroke-width="0.9"/>
<text transform="translate(291.35 504.95) scale(0.93 1)" font-size="8.1" text-anchor="end" class="tk">5000</text>
<text transform="translate(298.9 493.6) scale(0.985 1)" font-size="11.5" class="tt">MEIS1</text>
<rect x="331.25" y="494.6" width="4.3" height="9.4" fill="none" stroke="#3e3e3e" stroke-width="1"/>
<text transform="translate(339.4 499.1) scale(0.9 1)" font-size="8.1" class="tk">12,947</text>
<line x1="227.8" y1="28.7" x2="227.8" y2="172.3" stroke="#1c1c1c" stroke-width="1.3"/>
<line x1="227.8" y1="183.5" x2="227.8" y2="327.8" stroke="#1c1c1c" stroke-width="1.3"/>
<line x1="227.8" y1="340.5" x2="227.8" y2="484.6" stroke="#1c1c1c" stroke-width="1.3"/>
<line x1="227.8" y1="496.2" x2="227.8" y2="640.9" stroke="#1c1c1c" stroke-width="1.3"/>
<line x1="395.9" y1="28.3" x2="396" y2="172.7" stroke="#1c1c1c" stroke-width="1.3"/>
<line x1="396" y1="183.5" x2="396.2" y2="327.8" stroke="#1c1c1c" stroke-width="1.3"/>
<line x1="396.2" y1="340.5" x2="396.4" y2="484.6" stroke="#1c1c1c" stroke-width="1.3"/>
<line x1="396.4" y1="496.2" x2="396.6" y2="640.9" stroke="#1c1c1c" stroke-width="1.3"/>
<path d="M22 633.2 C22.3 637.3 27.4 637.9 34 637.9 L117.9 637.9 C122.1 637.9 124.6 638.7 124.9 642.4 C125.2 638.7 127.7 637.9 131.9 637.9 L211 637.9 C220.9 637.9 228.7 637.3 229 633.2" fill="none" stroke="#1c1c1c" stroke-width="1.15" stroke-linecap="round"/>
<path d="M228.8 633 C229.1 636.4 229.61 637 230.6 637 L234.8 637 C236.12 637 236.7 637.8 237 641.4 C237.3 637.8 237.88 637 239.2 637 L243.7 637 C244.69 637 245.2 636.4 245.5 633" fill="none" stroke="#1c1c1c" stroke-width="1.0" stroke-linecap="round"/>
<path d="M294.6 633.3 C294.9 637 299.1 637.6 304.6 637.6 L339.2 637.6 C343.4 637.6 345.9 638.4 346.2 641.9 C346.5 638.4 349 637.6 353.2 637.6 L387.4 637.6 C392.35 637.6 396.1 637 396.4 635.2" fill="none" stroke="#1c1c1c" stroke-width="1.15" stroke-linecap="round"/>
<path d="M396.6 635.2 C396.9 637.2 400.65 637.8 405.6 637.8 L450.2 637.8 C454.4 637.8 456.9 638.6 457.2 642.1 C457.5 638.6 460 637.8 464.2 637.8 L508.3 637.8 C513.8 637.8 518 637.2 518.3 633.3" fill="none" stroke="#1c1c1c" stroke-width="1.15" stroke-linecap="round"/>
<text transform="translate(111.2 13.6) scale(1.0 1)" font-size="17.3" class="th">T-ALL</text>
<text transform="translate(380.7 13.6) scale(1.0 1)" font-size="17.3" class="th">B-ALL</text>
<text transform="translate(107.8 658) scale(0.96 1)" font-size="13.8" class="tb">T-ALL</text>
<text transform="translate(207.3 658) scale(0.985 1)" font-size="13.8" class="tb">MLL/ENL</text>
<text transform="translate(218.6 673.6) scale(0.96 1)" font-size="13.8" class="tb">T-ALL</text>
<text transform="translate(312.8 658) scale(0.965 1)" font-size="13.8" class="tb">MLL B-ALL</text>
<text transform="translate(439.1 658) scale(0.96 1)" font-size="13.8" class="tb">B-ALL</text>
</g>
</svg>
</body>
</html>
